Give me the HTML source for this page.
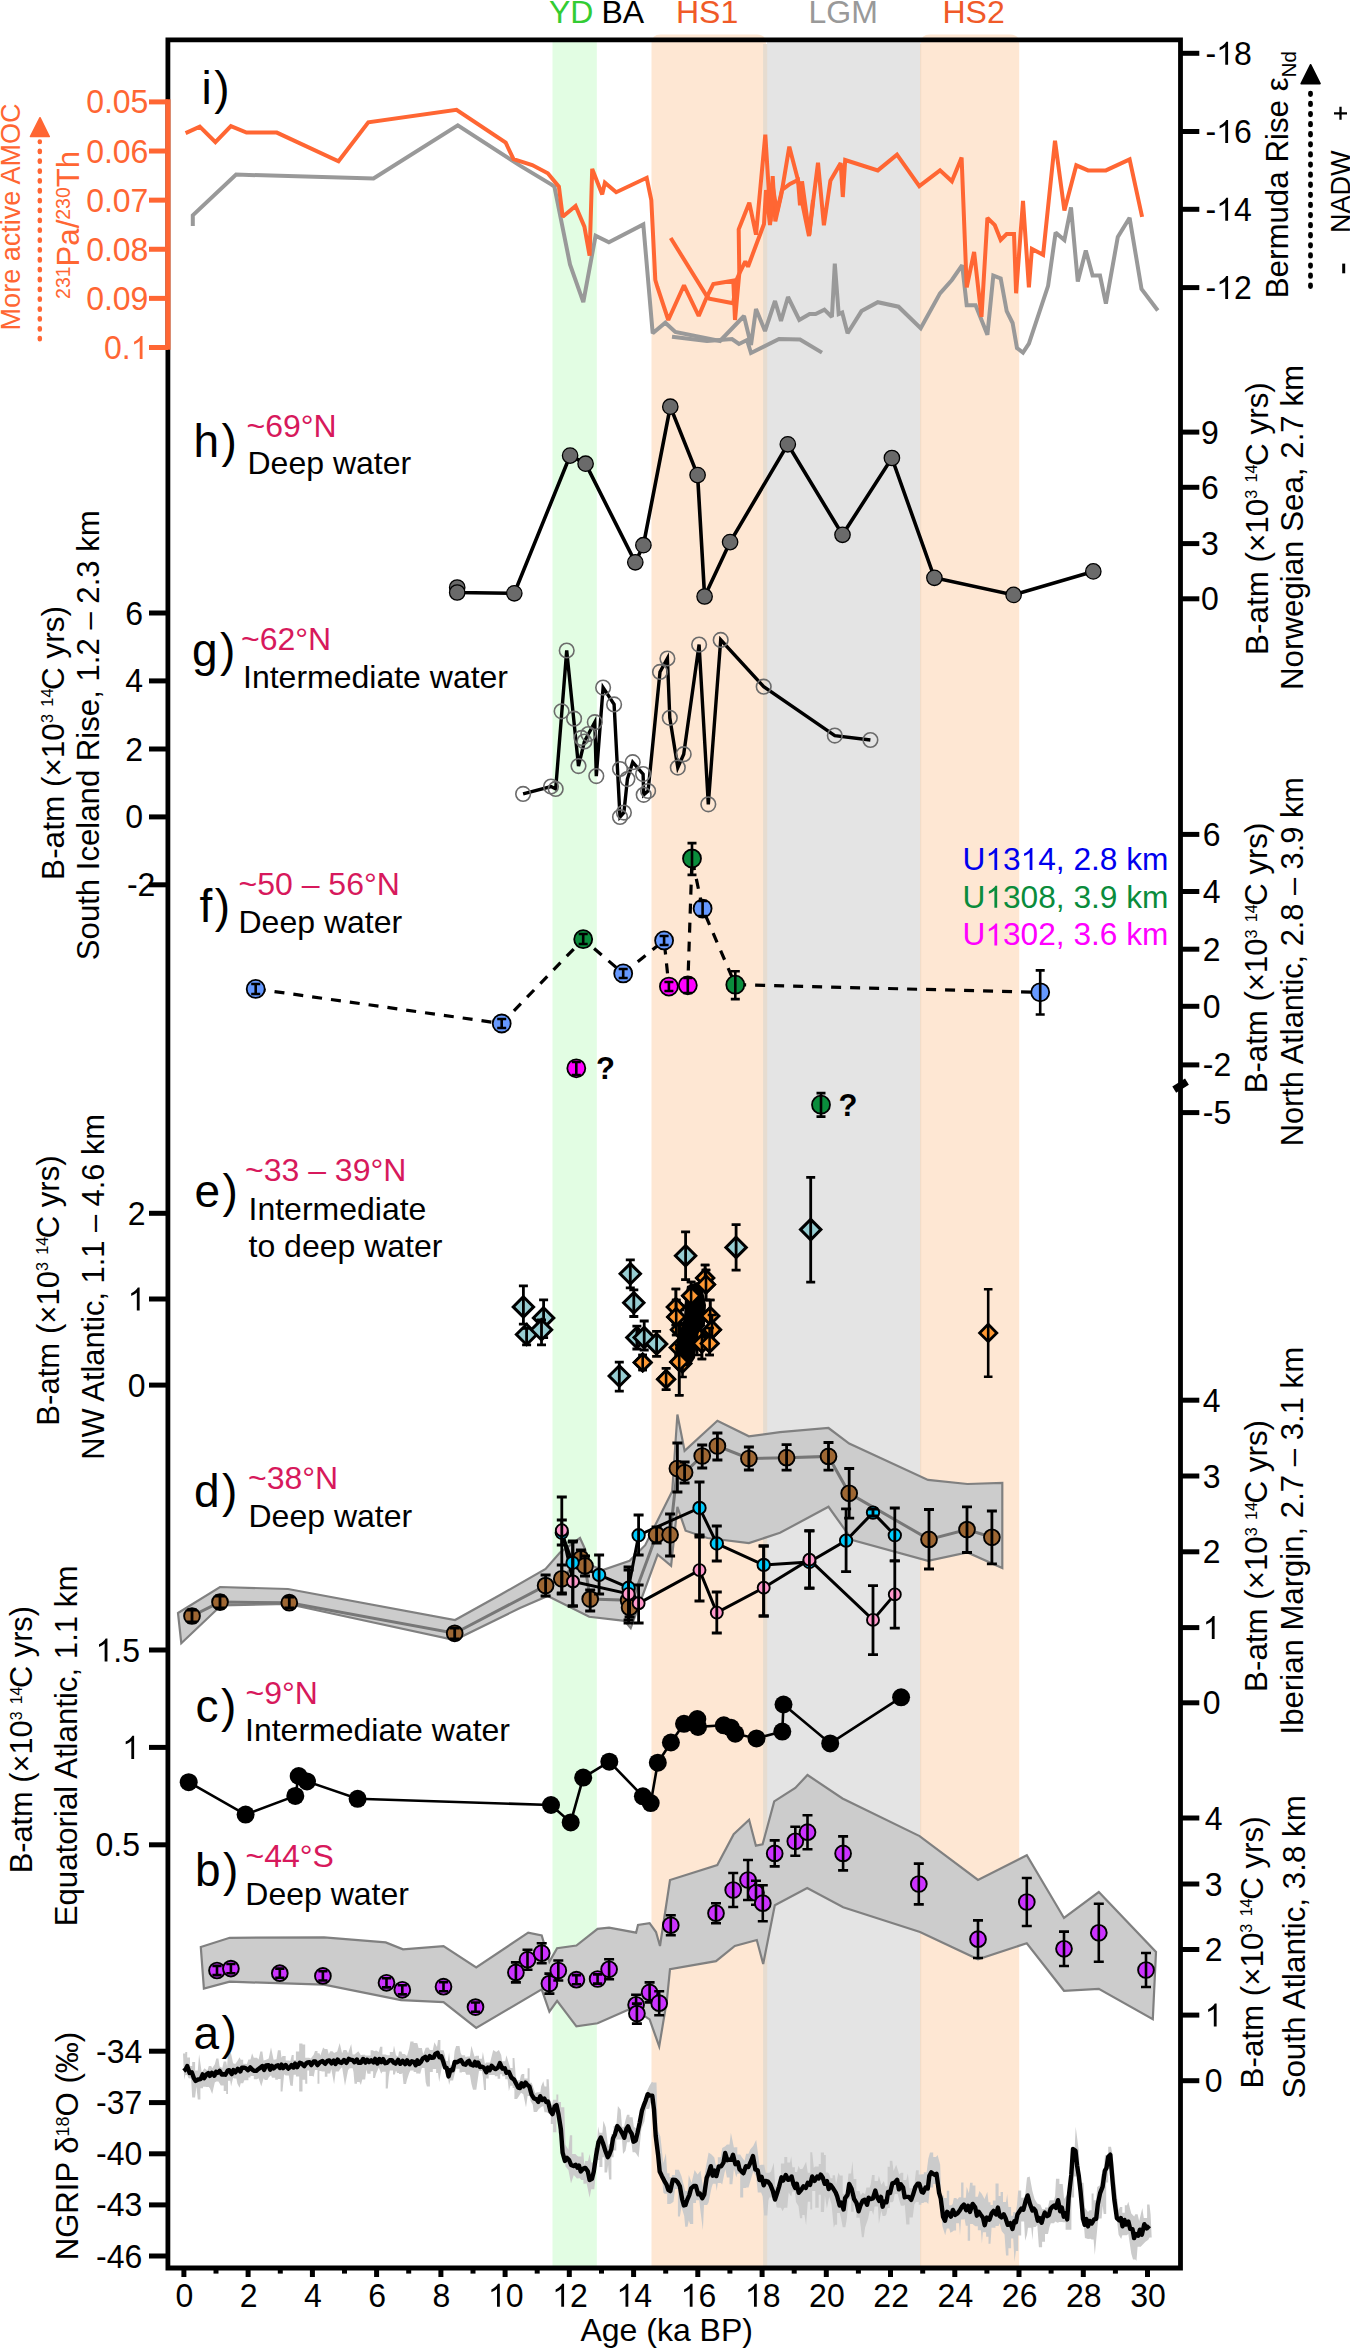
<!DOCTYPE html>
<html><head><meta charset="utf-8"><title>Figure</title>
<style>html,body{margin:0;padding:0;background:#fff;} body{width:1350px;height:2348px;overflow:hidden;font-family:"Liberation Sans",sans-serif;} svg{display:block;}</style>
</head><body>
<svg width="1350" height="2348" viewBox="0 0 1350 2348" font-family="Liberation Sans, sans-serif"><rect x="552.5" y="40" width="44.299999999999955" height="2226" fill="#e2fde3"/>
<path d="M651.5,2266V43.5Q651.5,34.5 660.5,34.5H757.0Q766.0,34.5 766.0,43.5V2266Z" fill="#fee7d3"/>
<rect x="767.0" y="40" width="153.79999999999995" height="2226" fill="#e4e4e4"/>
<path d="M920.8,2266V43.5Q920.8,34.5 929.8,34.5H1010.2Q1019.2,34.5 1019.2,43.5V2266Z" fill="#fee7d3"/>
<rect x="763.1" y="44" width="4.1" height="2222" fill="#e6dcd0"/>
<rect x="920.1" y="44" width="1.1" height="2222" fill="#f2dcc6"/>
<text x="549" y="22.8" font-size="32" fill="#33cc33" text-anchor="start" >YD</text>
<text x="601.5" y="22.8" font-size="32" fill="#000" text-anchor="start" >BA</text>
<text x="676" y="22.8" font-size="32" fill="#f05a28" text-anchor="start" >HS1</text>
<text x="808.5" y="22.8" font-size="32" fill="#999999" text-anchor="start" >LGM</text>
<text x="942.5" y="22.8" font-size="32" fill="#f05a28" text-anchor="start" >HS2</text>
<polyline points="192.8,226.0 192.8,215.3 236.1,174.6 373.5,178.5 457.8,125.4 520.0,165.6 551.1,184.4 554.4,186.7 570.0,264.4 583.3,302.2 595.6,235.6 608.9,242.2 643.3,224.4 652.7,333.3 665.3,322.7 675.3,332.0 720.0,341.0 744.0,316.0 751.0,345.0 756.0,309.0 765.0,331.0 775.0,301.0 781.0,321.0 788.0,297.0 799.3,320.0 809.6,314.1 815.6,314.1 824.4,309.6 831.9,317.0 834.8,263.7 838.7,314.1 842.2,312.6 847.6,333.3 861.5,311.1 877.8,302.2 898.5,306.7 920.7,328.3 940.0,293.3 951.9,280.0 962.2,265.2 966.7,305.2 975.6,305.2 987.4,334.8 993.3,275.6 1000.7,278.5 1006.7,311.1 1012.6,323.0 1017.0,348.1 1023.0,352.6 1028.9,343.7 1048.1,285.9 1055.6,232.6 1064.4,240.0 1071.0,207.4 1077.8,281.5 1085.8,250.4 1092.6,275.6 1100.0,275.6 1105.9,303.7 1117.8,237.0 1129.6,217.8 1141.5,288.9 1157.8,310.5" fill="none" stroke="#999999" stroke-width="4.0" stroke-linejoin="miter" stroke-miterlimit="2"/>
<polyline points="672.0,336.7 707.0,341.0 732.0,339.0 739.0,344.0 747.0,340.0 751.0,353.0 779.0,339.0 800.0,339.5 822.0,352.6" fill="none" stroke="#999999" stroke-width="4.0" stroke-linejoin="miter" stroke-miterlimit="2"/>
<polyline points="185.6,133.1 199.8,126.7 215.4,142.2 230.9,126.1 246.5,132.6 276.8,132.6 338.5,161.2 368.3,122.3 456.5,109.8 505.7,142.7 513.5,159.1 532.2,165.1 547.8,173.3 558.9,186.7 562.7,216.7 575.6,206.0 584.4,226.7 589.6,255.6 592.2,168.9 602.2,194.4 604.9,182.7 616.2,192.2 646.7,177.8 651.3,200.0 653.3,240.0 655.3,280.0 657.3,286.7 668.3,320.0 684.0,285.3 698.7,316.0 706.7,297.3 713.3,284.0 733.3,280.7 735.0,320.0 739.3,273.3 738.7,229.3 744.0,216.0 749.3,202.7 756.0,234.7 765.3,134.7 770.7,221.3 772.7,176.0 775.3,221.3 781.3,194.7 789.3,146.7 798.0,180.0 800.0,205.3 802.0,181.3 809.3,234.7 813.3,200.0 818.0,162.7 823.9,225.2 830.4,180.7 840.7,163.0 842.8,197.0 845.2,160.0 877.8,170.4 897.0,154.7 919.3,186.1 940.0,170.4 951.9,181.3 961.6,157.6 966.7,287.4 974.1,251.9 981.5,317.0 987.4,217.8 994.8,225.2 1000.7,240.0 1006.7,234.1 1014.0,234.1 1016.1,293.3 1023.0,200.9 1028.9,287.4 1031.9,248.9 1043.1,254.8 1055.0,140.7 1064.4,210.4 1076.3,165.3 1088.1,170.4 1105.9,170.4 1129.6,159.4 1142.1,216.9" fill="none" stroke="#ff6633" stroke-width="4.0" stroke-linejoin="miter" stroke-miterlimit="2"/>
<polyline points="670.7,238.0 706.7,296.0 709.3,298.7 733.3,303.3 736.0,281.0 740.0,272.0 745.3,261.3 748.0,266.7 756.0,245.3 764.0,224.0 766.0,190.0 770.0,225.0 773.0,188.0 777.0,212.0 782.0,190.0 790.0,184.0 798.0,180.0 803.0,207.0 809.0,236.0 813.0,200.0" fill="none" stroke="#ff6633" stroke-width="4.0" stroke-linejoin="miter" stroke-miterlimit="2"/>
<polyline points="457.2,587.5 457.2,592.5 514.3,593.3 570.1,455.6 585.6,463.7 635.3,562.3 643.4,545.2 670.3,406.7 697.6,475.1 704.6,596.5 730.1,542.1 787.8,444.3 842.5,534.8 891.9,458.0 934.4,577.8 1013.6,594.9 1093.3,571.4" fill="none" stroke="#000" stroke-width="3.6"/>
<circle cx="457.2" cy="587.5" r="7.7" fill="#6a6a6a" stroke="#000" stroke-width="1.3"/>
<circle cx="457.2" cy="592.5" r="7.7" fill="#6a6a6a" stroke="#000" stroke-width="1.3"/>
<circle cx="514.3" cy="593.3" r="7.7" fill="#6a6a6a" stroke="#000" stroke-width="1.3"/>
<circle cx="570.1" cy="455.6" r="7.7" fill="#6a6a6a" stroke="#000" stroke-width="1.3"/>
<circle cx="585.6" cy="463.7" r="7.7" fill="#6a6a6a" stroke="#000" stroke-width="1.3"/>
<circle cx="635.3" cy="562.3" r="7.7" fill="#6a6a6a" stroke="#000" stroke-width="1.3"/>
<circle cx="643.4" cy="545.2" r="7.7" fill="#6a6a6a" stroke="#000" stroke-width="1.3"/>
<circle cx="670.3" cy="406.7" r="7.7" fill="#6a6a6a" stroke="#000" stroke-width="1.3"/>
<circle cx="697.6" cy="475.1" r="7.7" fill="#6a6a6a" stroke="#000" stroke-width="1.3"/>
<circle cx="704.6" cy="596.5" r="7.7" fill="#6a6a6a" stroke="#000" stroke-width="1.3"/>
<circle cx="730.1" cy="542.1" r="7.7" fill="#6a6a6a" stroke="#000" stroke-width="1.3"/>
<circle cx="787.8" cy="444.3" r="7.7" fill="#6a6a6a" stroke="#000" stroke-width="1.3"/>
<circle cx="842.5" cy="534.8" r="7.7" fill="#6a6a6a" stroke="#000" stroke-width="1.3"/>
<circle cx="891.9" cy="458" r="7.7" fill="#6a6a6a" stroke="#000" stroke-width="1.3"/>
<circle cx="934.4" cy="577.8" r="7.7" fill="#6a6a6a" stroke="#000" stroke-width="1.3"/>
<circle cx="1013.6" cy="594.9" r="7.7" fill="#6a6a6a" stroke="#000" stroke-width="1.3"/>
<circle cx="1093.3" cy="571.4" r="7.7" fill="#6a6a6a" stroke="#000" stroke-width="1.3"/>
<polyline points="523.1,793.9 551.0,786.5 555.7,788.9 566.7,650.5 578.5,766.1 584.4,741.5 594.8,722.2 596.3,776.1 603.1,687.6 614.1,704.4 620.0,817.0 623.9,812.6 627.4,779.1 632.7,762.2 643.1,774.1 643.7,794.8 648.1,791.0 660.0,671.9 667.4,658.5 669.8,717.8 677.8,767.6 683.7,754.2 699.1,644.6 708.3,804.3 720.7,639.9 763.7,686.7 834.8,735.6 870.4,740.0" fill="none" stroke="#000" stroke-width="3.4"/>
<circle cx="523.1" cy="793.9" r="7.3" fill="none" stroke="#6b6b6b" stroke-width="1.6"/>
<circle cx="551" cy="786.5" r="7.3" fill="none" stroke="#6b6b6b" stroke-width="1.6"/>
<circle cx="555.7" cy="788.9" r="7.3" fill="none" stroke="#6b6b6b" stroke-width="1.6"/>
<circle cx="561.6" cy="711.3" r="7.3" fill="none" stroke="#6b6b6b" stroke-width="1.6"/>
<circle cx="566.7" cy="650.5" r="7.3" fill="none" stroke="#6b6b6b" stroke-width="1.6"/>
<circle cx="574.1" cy="718.7" r="7.3" fill="none" stroke="#6b6b6b" stroke-width="1.6"/>
<circle cx="578.5" cy="766.1" r="7.3" fill="none" stroke="#6b6b6b" stroke-width="1.6"/>
<circle cx="581.5" cy="737.9" r="7.3" fill="none" stroke="#6b6b6b" stroke-width="1.6"/>
<circle cx="584.4" cy="741.5" r="7.3" fill="none" stroke="#6b6b6b" stroke-width="1.6"/>
<circle cx="588.3" cy="734.1" r="7.3" fill="none" stroke="#6b6b6b" stroke-width="1.6"/>
<circle cx="594.8" cy="722.2" r="7.3" fill="none" stroke="#6b6b6b" stroke-width="1.6"/>
<circle cx="596.3" cy="776.1" r="7.3" fill="none" stroke="#6b6b6b" stroke-width="1.6"/>
<circle cx="603.1" cy="687.6" r="7.3" fill="none" stroke="#6b6b6b" stroke-width="1.6"/>
<circle cx="614.1" cy="704.4" r="7.3" fill="none" stroke="#6b6b6b" stroke-width="1.6"/>
<circle cx="620" cy="769" r="7.3" fill="none" stroke="#6b6b6b" stroke-width="1.6"/>
<circle cx="620" cy="817" r="7.3" fill="none" stroke="#6b6b6b" stroke-width="1.6"/>
<circle cx="623.9" cy="812.6" r="7.3" fill="none" stroke="#6b6b6b" stroke-width="1.6"/>
<circle cx="627.4" cy="779.1" r="7.3" fill="none" stroke="#6b6b6b" stroke-width="1.6"/>
<circle cx="632.7" cy="762.2" r="7.3" fill="none" stroke="#6b6b6b" stroke-width="1.6"/>
<circle cx="643.1" cy="774.1" r="7.3" fill="none" stroke="#6b6b6b" stroke-width="1.6"/>
<circle cx="643.7" cy="794.8" r="7.3" fill="none" stroke="#6b6b6b" stroke-width="1.6"/>
<circle cx="648.1" cy="791" r="7.3" fill="none" stroke="#6b6b6b" stroke-width="1.6"/>
<circle cx="660" cy="671.9" r="7.3" fill="none" stroke="#6b6b6b" stroke-width="1.6"/>
<circle cx="667.4" cy="658.5" r="7.3" fill="none" stroke="#6b6b6b" stroke-width="1.6"/>
<circle cx="669.8" cy="717.8" r="7.3" fill="none" stroke="#6b6b6b" stroke-width="1.6"/>
<circle cx="677.8" cy="767.6" r="7.3" fill="none" stroke="#6b6b6b" stroke-width="1.6"/>
<circle cx="683.7" cy="754.2" r="7.3" fill="none" stroke="#6b6b6b" stroke-width="1.6"/>
<circle cx="699.1" cy="644.6" r="7.3" fill="none" stroke="#6b6b6b" stroke-width="1.6"/>
<circle cx="708.3" cy="804.3" r="7.3" fill="none" stroke="#6b6b6b" stroke-width="1.6"/>
<circle cx="720.7" cy="639.9" r="7.3" fill="none" stroke="#6b6b6b" stroke-width="1.6"/>
<circle cx="763.7" cy="686.7" r="7.3" fill="none" stroke="#6b6b6b" stroke-width="1.6"/>
<circle cx="834.8" cy="735.6" r="7.3" fill="none" stroke="#6b6b6b" stroke-width="1.6"/>
<circle cx="870.4" cy="740" r="7.3" fill="none" stroke="#6b6b6b" stroke-width="1.6"/>
<polyline points="255.7,988.9 501.7,1023.5 583.2,939.2 623.2,973.4 664.1,940.4 668.9,986.6 687.8,985.3 692.0,858.5 702.6,908.6 735.3,984.7 1040.2,992.3" fill="none" stroke="#000" stroke-width="3.2" stroke-dasharray="10 9"/>
<circle cx="255.7" cy="988.9" r="9.0" fill="#6699ff" stroke="#000" stroke-width="1.8"/>
<path d="M255.7,984V994M251.2,984H260.2M251.2,994H260.2" stroke="#000" stroke-width="2.6" fill="none"/>
<circle cx="501.7" cy="1023.5" r="9.0" fill="#6699ff" stroke="#000" stroke-width="1.8"/>
<path d="M501.7,1019V1028M497.2,1019H506.2M497.2,1028H506.2" stroke="#000" stroke-width="2.6" fill="none"/>
<circle cx="583.2" cy="939.2" r="9.0" fill="#0a8c3c" stroke="#000" stroke-width="1.8"/>
<path d="M583.2,934V944M578.7,934H587.7M578.7,944H587.7" stroke="#000" stroke-width="2.6" fill="none"/>
<circle cx="623.2" cy="973.4" r="9.0" fill="#6699ff" stroke="#000" stroke-width="1.8"/>
<path d="M623.2,969V978M618.7,969H627.7M618.7,978H627.7" stroke="#000" stroke-width="2.6" fill="none"/>
<circle cx="664.1" cy="940.4" r="9.0" fill="#6699ff" stroke="#000" stroke-width="1.8"/>
<path d="M664.1,936V945M659.6,936H668.6M659.6,945H668.6" stroke="#000" stroke-width="2.6" fill="none"/>
<circle cx="668.9" cy="986.6" r="9.0" fill="#ff00ff" stroke="#000" stroke-width="1.8"/>
<path d="M668.9,982V991M664.4,982H673.4M664.4,991H673.4" stroke="#000" stroke-width="2.6" fill="none"/>
<circle cx="687.8" cy="985.3" r="9.0" fill="#ff00ff" stroke="#000" stroke-width="1.8"/>
<path d="M687.8,978V993M683.3,978H692.3M683.3,993H692.3" stroke="#000" stroke-width="2.6" fill="none"/>
<circle cx="692" cy="858.5" r="9.0" fill="#0a8c3c" stroke="#000" stroke-width="1.8"/>
<path d="M692,843.1V874.9M687.5,843.1H696.5M687.5,874.9H696.5" stroke="#000" stroke-width="2.6" fill="none"/>
<circle cx="702.6" cy="908.6" r="9.0" fill="#6699ff" stroke="#000" stroke-width="1.8"/>
<path d="M702.6,901V916M698.1,901H707.1M698.1,916H707.1" stroke="#000" stroke-width="2.6" fill="none"/>
<circle cx="735.3" cy="984.7" r="9.0" fill="#0a8c3c" stroke="#000" stroke-width="1.8"/>
<path d="M735.3,971.2V999.1M730.8,971.2H739.8M730.8,999.1H739.8" stroke="#000" stroke-width="2.6" fill="none"/>
<circle cx="1040.2" cy="992.3" r="9.0" fill="#6699ff" stroke="#000" stroke-width="1.8"/>
<path d="M1040.2,970.4V1014.5M1035.7,970.4H1044.7M1035.7,1014.5H1044.7" stroke="#000" stroke-width="2.6" fill="none"/>
<circle cx="576.3" cy="1068.3" r="9.0" fill="#ff00ff" stroke="#000" stroke-width="1.8"/>
<path d="M576.3,1062V1075M571.8,1062H580.8M571.8,1075H580.8" stroke="#000" stroke-width="2.6" fill="none"/>
<circle cx="821" cy="1104.7" r="9.0" fill="#0a8c3c" stroke="#000" stroke-width="1.8"/>
<path d="M821,1093.1V1116.6M816.5,1093.1H825.5M816.5,1116.6H825.5" stroke="#000" stroke-width="2.6" fill="none"/>
<text x="596" y="1079" font-size="31" font-weight="bold" fill="#000">?</text>
<text x="838.5" y="1116.3" font-size="31" font-weight="bold" fill="#000">?</text>
<path d="M642.7,1353.9L651.3000000000001,1362.5L642.7,1371.1L634.1,1362.5Z" fill="#ff9933" stroke="#000" stroke-width="2.8" stroke-linejoin="miter"/>
<path d="M642.7,1355V1370M638.4000000000001,1355H647.0M638.4000000000001,1370H647.0" stroke="#000" stroke-width="2.6" fill="none"/>
<path d="M666.1,1370.6000000000001L674.7,1379.2L666.1,1387.8L657.5,1379.2Z" fill="#ff9933" stroke="#000" stroke-width="2.8" stroke-linejoin="miter"/>
<path d="M666.1,1368.2V1389.7M661.8000000000001,1368.2H670.4M661.8000000000001,1389.7H670.4" stroke="#000" stroke-width="2.6" fill="none"/>
<path d="M675.9,1298.5L684.5,1307.1L675.9,1315.6999999999998L667.3,1307.1Z" fill="#ff9933" stroke="#000" stroke-width="2.8" stroke-linejoin="miter"/>
<path d="M675.9,1289V1325M671.6,1289H680.1999999999999M671.6,1325H680.1999999999999" stroke="#000" stroke-width="2.6" fill="none"/>
<path d="M676.2,1308.3000000000002L684.8000000000001,1316.9L676.2,1325.5L667.6,1316.9Z" fill="#ff9933" stroke="#000" stroke-width="2.8" stroke-linejoin="miter"/>
<path d="M676.2,1300V1335M671.9000000000001,1300H680.5M671.9000000000001,1335H680.5" stroke="#000" stroke-width="2.6" fill="none"/>
<path d="M679.8,1321.1000000000001L688.4,1329.7L679.8,1338.3L671.1999999999999,1329.7Z" fill="#ff9933" stroke="#000" stroke-width="2.8" stroke-linejoin="miter"/>
<path d="M679.8,1310V1350M675.5,1310H684.0999999999999M675.5,1350H684.0999999999999" stroke="#000" stroke-width="2.6" fill="none"/>
<path d="M678.6,1339.0L687.2,1347.6L678.6,1356.1999999999998L670.0,1347.6Z" fill="#ff9933" stroke="#000" stroke-width="2.8" stroke-linejoin="miter"/>
<path d="M678.6,1325V1355M674.3000000000001,1325H682.9M674.3000000000001,1355H682.9" stroke="#000" stroke-width="2.6" fill="none"/>
<path d="M679.2,1353.3000000000002L687.8000000000001,1361.9L679.2,1370.5L670.6,1361.9Z" fill="#ff9933" stroke="#000" stroke-width="2.8" stroke-linejoin="miter"/>
<path d="M679.2,1345V1395.3M674.9000000000001,1345H683.5M674.9000000000001,1395.3H683.5" stroke="#000" stroke-width="2.6" fill="none"/>
<path d="M682.5,1355.0L691.1,1363.6L682.5,1372.1999999999998L673.9,1363.6Z" fill="#ff9933" stroke="#000" stroke-width="2.8" stroke-linejoin="miter"/>
<path d="M682.5,1350V1377M678.2,1350H686.8M678.2,1377H686.8" stroke="#000" stroke-width="2.6" fill="none"/>
<path d="M691.1,1287.2L699.7,1295.8L691.1,1304.3999999999999L682.5,1295.8Z" fill="#ff9933" stroke="#000" stroke-width="2.8" stroke-linejoin="miter"/>
<path d="M691.1,1282V1310M686.8000000000001,1282H695.4M686.8000000000001,1310H695.4" stroke="#000" stroke-width="2.6" fill="none"/>
<path d="M688.7,1327.1000000000001L697.3000000000001,1335.7L688.7,1344.3L680.1,1335.7Z" fill="#ff9933" stroke="#000" stroke-width="2.8" stroke-linejoin="miter"/>
<path d="M688.7,1305V1354M684.4000000000001,1305H693.0M684.4000000000001,1354H693.0" stroke="#000" stroke-width="2.6" fill="none"/>
<path d="M695,1316.6000000000001L703.6,1325.2L695,1333.8L686.4,1325.2Z" fill="#ff9933" stroke="#000" stroke-width="2.8" stroke-linejoin="miter"/>
<path d="M695,1305V1345M690.7,1305H699.3M690.7,1345H699.3" stroke="#000" stroke-width="2.6" fill="none"/>
<path d="M697.1,1327.0L705.7,1335.6L697.1,1344.1999999999998L688.5,1335.6Z" fill="#ff9933" stroke="#000" stroke-width="2.8" stroke-linejoin="miter"/>
<path d="M697.1,1320V1355M692.8000000000001,1320H701.4M692.8000000000001,1355H701.4" stroke="#000" stroke-width="2.6" fill="none"/>
<path d="M705.1,1269.3000000000002L713.7,1277.9L705.1,1286.5L696.5,1277.9Z" fill="#ff9933" stroke="#000" stroke-width="2.8" stroke-linejoin="miter"/>
<path d="M705.1,1265V1290M700.8000000000001,1265H709.4M700.8000000000001,1290H709.4" stroke="#000" stroke-width="2.6" fill="none"/>
<path d="M706,1275.8000000000002L714.6,1284.4L706,1293.0L697.4,1284.4Z" fill="#ff9933" stroke="#000" stroke-width="2.8" stroke-linejoin="miter"/>
<path d="M706,1270V1300M701.7,1270H710.3M701.7,1300H710.3" stroke="#000" stroke-width="2.6" fill="none"/>
<path d="M710.2,1307.4L718.8000000000001,1316L710.2,1324.6L701.6,1316Z" fill="#ff9933" stroke="#000" stroke-width="2.8" stroke-linejoin="miter"/>
<path d="M710.2,1300V1330M705.9000000000001,1300H714.5M705.9000000000001,1330H714.5" stroke="#000" stroke-width="2.6" fill="none"/>
<path d="M712,1321.1000000000001L720.6,1329.7L712,1338.3L703.4,1329.7Z" fill="#ff9933" stroke="#000" stroke-width="2.8" stroke-linejoin="miter"/>
<path d="M712,1315V1345M707.7,1315H716.3M707.7,1345H716.3" stroke="#000" stroke-width="2.6" fill="none"/>
<path d="M701.9,1334.9L710.5,1343.5L701.9,1352.1L693.3,1343.5Z" fill="#ff9933" stroke="#000" stroke-width="2.8" stroke-linejoin="miter"/>
<path d="M701.9,1330V1359M697.6,1330H706.1999999999999M697.6,1359H706.1999999999999" stroke="#000" stroke-width="2.6" fill="none"/>
<path d="M709.6,1334.9L718.2,1343.5L709.6,1352.1L701.0,1343.5Z" fill="#ff9933" stroke="#000" stroke-width="2.8" stroke-linejoin="miter"/>
<path d="M709.6,1328V1355M705.3000000000001,1328H713.9M705.3000000000001,1355H713.9" stroke="#000" stroke-width="2.6" fill="none"/>
<path d="M988.2,1324.3000000000002L996.8000000000001,1332.9L988.2,1341.5L979.6,1332.9Z" fill="#ff9933" stroke="#000" stroke-width="2.8" stroke-linejoin="miter"/>
<path d="M988.2,1289.3V1376.7M983.9000000000001,1289.3H992.5M983.9000000000001,1376.7H992.5" stroke="#000" stroke-width="2.6" fill="none"/>
<polygon points="687.0,1286.0 697.0,1282.0 703.0,1291.0 706.0,1305.0 705.0,1324.0 698.0,1334.0 695.0,1358.0 689.0,1367.0 677.0,1364.0 675.0,1348.0 679.0,1334.0 684.0,1318.0 685.0,1298.0" fill="#000"/>
<path d="M705.1,1269.3000000000002L713.7,1277.9L705.1,1286.5L696.5,1277.9Z" fill="#ff9933" stroke="#000" stroke-width="2.8" stroke-linejoin="miter"/>
<path d="M705.1,1265V1290M700.8000000000001,1265H709.4M700.8000000000001,1290H709.4" stroke="#000" stroke-width="2.6" fill="none"/>
<path d="M706,1275.8000000000002L714.6,1284.4L706,1293.0L697.4,1284.4Z" fill="#ff9933" stroke="#000" stroke-width="2.8" stroke-linejoin="miter"/>
<path d="M706,1270V1300M701.7,1270H710.3M701.7,1300H710.3" stroke="#000" stroke-width="2.6" fill="none"/>
<path d="M710.2,1307.4L718.8000000000001,1316L710.2,1324.6L701.6,1316Z" fill="#ff9933" stroke="#000" stroke-width="2.8" stroke-linejoin="miter"/>
<path d="M710.2,1300V1330M705.9000000000001,1300H714.5M705.9000000000001,1330H714.5" stroke="#000" stroke-width="2.6" fill="none"/>
<path d="M712,1321.1000000000001L720.6,1329.7L712,1338.3L703.4,1329.7Z" fill="#ff9933" stroke="#000" stroke-width="2.8" stroke-linejoin="miter"/>
<path d="M712,1315V1345M707.7,1315H716.3M707.7,1345H716.3" stroke="#000" stroke-width="2.6" fill="none"/>
<path d="M701.9,1334.9L710.5,1343.5L701.9,1352.1L693.3,1343.5Z" fill="#ff9933" stroke="#000" stroke-width="2.8" stroke-linejoin="miter"/>
<path d="M701.9,1330V1359M697.6,1330H706.1999999999999M697.6,1359H706.1999999999999" stroke="#000" stroke-width="2.6" fill="none"/>
<path d="M709.6,1334.9L718.2,1343.5L709.6,1352.1L701.0,1343.5Z" fill="#ff9933" stroke="#000" stroke-width="2.8" stroke-linejoin="miter"/>
<path d="M709.6,1328V1355M705.3000000000001,1328H713.9M705.3000000000001,1355H713.9" stroke="#000" stroke-width="2.6" fill="none"/>
<path d="M675.9,1298.5L684.5,1307.1L675.9,1315.6999999999998L667.3,1307.1Z" fill="#ff9933" stroke="#000" stroke-width="2.8" stroke-linejoin="miter"/>
<path d="M675.9,1289V1325M671.6,1289H680.1999999999999M671.6,1325H680.1999999999999" stroke="#000" stroke-width="2.6" fill="none"/>
<path d="M676.2,1308.3000000000002L684.8000000000001,1316.9L676.2,1325.5L667.6,1316.9Z" fill="#ff9933" stroke="#000" stroke-width="2.8" stroke-linejoin="miter"/>
<path d="M676.2,1300V1335M671.9000000000001,1300H680.5M671.9000000000001,1335H680.5" stroke="#000" stroke-width="2.6" fill="none"/>
<path d="M679.2,1353.3000000000002L687.8000000000001,1361.9L679.2,1370.5L670.6,1361.9Z" fill="#ff9933" stroke="#000" stroke-width="2.8" stroke-linejoin="miter"/>
<path d="M679.2,1345V1395.3M674.9000000000001,1345H683.5M674.9000000000001,1395.3H683.5" stroke="#000" stroke-width="2.6" fill="none"/>
<path d="M666.1,1370.6000000000001L674.7,1379.2L666.1,1387.8L657.5,1379.2Z" fill="#ff9933" stroke="#000" stroke-width="2.8" stroke-linejoin="miter"/>
<path d="M666.1,1368.2V1389.7M661.8000000000001,1368.2H670.4M661.8000000000001,1389.7H670.4" stroke="#000" stroke-width="2.6" fill="none"/>
<path d="M691.1,1287.2L699.7,1295.8L691.1,1304.3999999999999L682.5,1295.8Z" fill="#ff9933" stroke="#000" stroke-width="2.8" stroke-linejoin="miter"/>
<path d="M691.1,1282V1310M686.8000000000001,1282H695.4M686.8000000000001,1310H695.4" stroke="#000" stroke-width="2.6" fill="none"/>
<path d="M642.7,1353.9L651.3000000000001,1362.5L642.7,1371.1L634.1,1362.5Z" fill="#ff9933" stroke="#000" stroke-width="2.8" stroke-linejoin="miter"/>
<path d="M642.7,1355V1370M638.4000000000001,1355H647.0M638.4000000000001,1370H647.0" stroke="#000" stroke-width="2.6" fill="none"/>
<path d="M523.4,1296.7L533.6,1306.9L523.4,1317.1000000000001L513.1999999999999,1306.9Z" fill="#96cdd2" stroke="#000" stroke-width="3.0" stroke-linejoin="miter"/>
<path d="M523.4,1285.8V1324.2M518.9,1285.8H527.9M518.9,1324.2H527.9" stroke="#000" stroke-width="2.8" fill="none"/>
<path d="M526.6,1324.3L536.8000000000001,1334.5L526.6,1344.7L516.4,1334.5Z" fill="#96cdd2" stroke="#000" stroke-width="3.0" stroke-linejoin="miter"/>
<path d="M526.6,1328.3V1344.9M522.1,1328.3H531.1M522.1,1344.9H531.1" stroke="#000" stroke-width="2.8" fill="none"/>
<path d="M543.6,1307.7L553.8000000000001,1317.9L543.6,1328.1000000000001L533.4,1317.9Z" fill="#96cdd2" stroke="#000" stroke-width="3.0" stroke-linejoin="miter"/>
<path d="M543.6,1299.9V1337.6M539.1,1299.9H548.1M539.1,1337.6H548.1" stroke="#000" stroke-width="2.8" fill="none"/>
<path d="M541.5,1319.6L551.7,1329.8L541.5,1340.0L531.3,1329.8Z" fill="#96cdd2" stroke="#000" stroke-width="3.0" stroke-linejoin="miter"/>
<path d="M541.5,1320V1344.9M537.0,1320H546.0M537.0,1344.9H546.0" stroke="#000" stroke-width="2.8" fill="none"/>
<path d="M630.3,1263.6L640.5,1273.8L630.3,1284.0L620.0999999999999,1273.8Z" fill="#96cdd2" stroke="#000" stroke-width="3.0" stroke-linejoin="miter"/>
<path d="M630.3,1259.9V1287.9M625.8,1259.9H634.8M625.8,1287.9H634.8" stroke="#000" stroke-width="2.8" fill="none"/>
<path d="M633.8,1292.6L644.0,1302.8L633.8,1313.0L623.5999999999999,1302.8Z" fill="#96cdd2" stroke="#000" stroke-width="3.0" stroke-linejoin="miter"/>
<path d="M633.8,1289.9V1316.5M629.3,1289.9H638.3M629.3,1316.5H638.3" stroke="#000" stroke-width="2.8" fill="none"/>
<path d="M636.9,1327.3999999999999L647.1,1337.6L636.9,1347.8L626.6999999999999,1337.6Z" fill="#96cdd2" stroke="#000" stroke-width="3.0" stroke-linejoin="miter"/>
<path d="M636.9,1326.2V1349M632.4,1326.2H641.4M632.4,1349H641.4" stroke="#000" stroke-width="2.8" fill="none"/>
<path d="M644.2,1327.3999999999999L654.4000000000001,1337.6L644.2,1347.8L634.0,1337.6Z" fill="#96cdd2" stroke="#000" stroke-width="3.0" stroke-linejoin="miter"/>
<path d="M644.2,1321V1350M639.7,1321H648.7M639.7,1350H648.7" stroke="#000" stroke-width="2.8" fill="none"/>
<path d="M656.6,1333.7L666.8000000000001,1343.9L656.6,1354.1000000000001L646.4,1343.9Z" fill="#96cdd2" stroke="#000" stroke-width="3.0" stroke-linejoin="miter"/>
<path d="M656.6,1331.4V1356.3M652.1,1331.4H661.1M652.1,1356.3H661.1" stroke="#000" stroke-width="2.8" fill="none"/>
<path d="M619.3,1365.8L629.5,1376L619.3,1386.2L609.0999999999999,1376Z" fill="#96cdd2" stroke="#000" stroke-width="3.0" stroke-linejoin="miter"/>
<path d="M619.3,1362.1V1391.2M614.8,1362.1H623.8M614.8,1391.2H623.8" stroke="#000" stroke-width="2.8" fill="none"/>
<path d="M685.6,1245.5L695.8000000000001,1255.7L685.6,1265.9L675.4,1255.7Z" fill="#96cdd2" stroke="#000" stroke-width="3.0" stroke-linejoin="miter"/>
<path d="M685.6,1231.9V1279.6M681.1,1231.9H690.1M681.1,1279.6H690.1" stroke="#000" stroke-width="2.8" fill="none"/>
<path d="M736.1,1237.2L746.3000000000001,1247.4L736.1,1257.6000000000001L725.9,1247.4Z" fill="#96cdd2" stroke="#000" stroke-width="3.0" stroke-linejoin="miter"/>
<path d="M736.1,1224.6V1270.2M731.6,1224.6H740.6M731.6,1270.2H740.6" stroke="#000" stroke-width="2.8" fill="none"/>
<path d="M810.7,1219.3999999999999L820.9000000000001,1229.6L810.7,1239.8L800.5,1229.6Z" fill="#96cdd2" stroke="#000" stroke-width="3.0" stroke-linejoin="miter"/>
<path d="M810.7,1177.3V1282.2M806.2,1177.3H815.2M806.2,1282.2H815.2" stroke="#000" stroke-width="2.8" fill="none"/>
<polygon points="178.0,1613.0 220.0,1587.0 288.0,1589.0 455.0,1620.0 500.0,1595.0 545.6,1569.0 560.0,1552.5 580.0,1538.0 585.0,1549.0 590.0,1565.0 602.7,1570.0 629.6,1560.8 645.2,1545.2 672.2,1491.3 677.4,1414.5 684.6,1450.8 717.4,1420.7 748.9,1436.3 780.0,1432.2 828.5,1428.0 849.2,1443.6 928.0,1479.9 967.4,1484.0 1002.3,1483.0 1002.3,1568.0 967.4,1552.5 928.0,1560.8 852.3,1540.0 828.5,1506.8 780.0,1532.8 748.9,1543.1 707.4,1538.0 685.6,1530.7 677.4,1506.8 671.1,1565.9 657.6,1554.5 630.7,1628.2 624.5,1620.9 589.2,1616.8 547.7,1596.0 520.0,1608.0 454.7,1640.0 288.0,1604.0 221.3,1605.3 181.3,1643.2" fill="#cccccc" stroke="#808080" stroke-width="2.2" stroke-linejoin="miter"/>
<polyline points="192.0,1616.0 220.0,1602.1 289.3,1602.7 454.7,1633.3 545.6,1585.6 561.8,1578.8 580.9,1558.7 585.0,1565.9 590.2,1599.1 628.6,1600.2 629.6,1607.4 656.6,1534.8 670.1,1534.8 677.4,1468.5 684.6,1472.6 702.2,1456.0 717.4,1446.0 748.9,1458.5 786.6,1457.7 828.5,1456.4 849.2,1493.3 929.0,1539.4 967.0,1529.6 991.9,1537.3" fill="none" stroke="#777777" stroke-width="3"/>
<polyline points="561.8,1532.8 572.6,1562.8 599.1,1574.9 628.6,1587.7 638.6,1535.2 699.5,1507.9 716.8,1543.5 763.7,1564.9 809.4,1562.0 846.1,1540.6 873.0,1512.6 894.8,1535.2" fill="none" stroke="#000" stroke-width="3"/>
<polyline points="561.8,1530.3 573.0,1581.5 628.6,1593.9 638.6,1603.3 699.5,1570.1 716.8,1612.6 763.7,1587.7 809.4,1559.7 873.0,1619.9 894.8,1594.4" fill="none" stroke="#000" stroke-width="3"/>
<circle cx="192" cy="1616" r="7.9" fill="#9e6733" stroke="#000" stroke-width="1.9"/>
<path d="M192,1610V1622M187,1610H197M187,1622H197" stroke="#000" stroke-width="2.8" fill="none"/>
<circle cx="220" cy="1602.1" r="7.9" fill="#9e6733" stroke="#000" stroke-width="1.9"/>
<path d="M220,1596V1608M215,1596H225M215,1608H225" stroke="#000" stroke-width="2.8" fill="none"/>
<circle cx="289.3" cy="1602.7" r="7.9" fill="#9e6733" stroke="#000" stroke-width="1.9"/>
<path d="M289.3,1597V1608M284.3,1597H294.3M284.3,1608H294.3" stroke="#000" stroke-width="2.8" fill="none"/>
<circle cx="454.7" cy="1633.3" r="7.9" fill="#9e6733" stroke="#000" stroke-width="1.9"/>
<path d="M454.7,1628V1639M449.7,1628H459.7M449.7,1639H459.7" stroke="#000" stroke-width="2.8" fill="none"/>
<circle cx="545.6" cy="1585.6" r="7.9" fill="#9e6733" stroke="#000" stroke-width="1.9"/>
<path d="M545.6,1575V1596M540.6,1575H550.6M540.6,1596H550.6" stroke="#000" stroke-width="2.8" fill="none"/>
<circle cx="561.8" cy="1578.8" r="7.9" fill="#9e6733" stroke="#000" stroke-width="1.9"/>
<path d="M561.8,1565V1593M556.8,1565H566.8M556.8,1593H566.8" stroke="#000" stroke-width="2.8" fill="none"/>
<circle cx="580.9" cy="1558.7" r="7.9" fill="#9e6733" stroke="#000" stroke-width="1.9"/>
<path d="M580.9,1550V1568M575.9,1550H585.9M575.9,1568H585.9" stroke="#000" stroke-width="2.8" fill="none"/>
<circle cx="585" cy="1565.9" r="7.9" fill="#9e6733" stroke="#000" stroke-width="1.9"/>
<path d="M585,1556V1576M580,1556H590M580,1576H590" stroke="#000" stroke-width="2.8" fill="none"/>
<circle cx="590.2" cy="1599.1" r="7.9" fill="#9e6733" stroke="#000" stroke-width="1.9"/>
<path d="M590.2,1590V1611M585.2,1590H595.2M585.2,1611H595.2" stroke="#000" stroke-width="2.8" fill="none"/>
<circle cx="628.6" cy="1600.2" r="7.9" fill="#9e6733" stroke="#000" stroke-width="1.9"/>
<path d="M628.6,1590V1611M623.6,1590H633.6M623.6,1611H633.6" stroke="#000" stroke-width="2.8" fill="none"/>
<circle cx="629.6" cy="1607.4" r="7.9" fill="#9e6733" stroke="#000" stroke-width="1.9"/>
<path d="M629.6,1598V1617M624.6,1598H634.6M624.6,1617H634.6" stroke="#000" stroke-width="2.8" fill="none"/>
<circle cx="656.6" cy="1534.8" r="7.9" fill="#9e6733" stroke="#000" stroke-width="1.9"/>
<path d="M656.6,1527V1543M651.6,1527H661.6M651.6,1543H661.6" stroke="#000" stroke-width="2.8" fill="none"/>
<circle cx="670.1" cy="1534.8" r="7.9" fill="#9e6733" stroke="#000" stroke-width="1.9"/>
<path d="M670.1,1514V1556M665.1,1514H675.1M665.1,1556H675.1" stroke="#000" stroke-width="2.8" fill="none"/>
<circle cx="677.4" cy="1468.5" r="7.9" fill="#9e6733" stroke="#000" stroke-width="1.9"/>
<path d="M677.4,1443V1492M672.4,1443H682.4M672.4,1492H682.4" stroke="#000" stroke-width="2.8" fill="none"/>
<circle cx="684.6" cy="1472.6" r="7.9" fill="#9e6733" stroke="#000" stroke-width="1.9"/>
<path d="M684.6,1462V1483M679.6,1462H689.6M679.6,1483H689.6" stroke="#000" stroke-width="2.8" fill="none"/>
<circle cx="702.2" cy="1456" r="7.9" fill="#9e6733" stroke="#000" stroke-width="1.9"/>
<path d="M702.2,1445V1468M697.2,1445H707.2M697.2,1468H707.2" stroke="#000" stroke-width="2.8" fill="none"/>
<circle cx="717.4" cy="1446" r="7.9" fill="#9e6733" stroke="#000" stroke-width="1.9"/>
<path d="M717.4,1433V1460M712.4,1433H722.4M712.4,1460H722.4" stroke="#000" stroke-width="2.8" fill="none"/>
<circle cx="748.9" cy="1458.5" r="7.9" fill="#9e6733" stroke="#000" stroke-width="1.9"/>
<path d="M748.9,1447V1470M743.9,1447H753.9M743.9,1470H753.9" stroke="#000" stroke-width="2.8" fill="none"/>
<circle cx="786.6" cy="1457.7" r="7.9" fill="#9e6733" stroke="#000" stroke-width="1.9"/>
<path d="M786.6,1444.6V1470.1M781.6,1444.6H791.6M781.6,1470.1H791.6" stroke="#000" stroke-width="2.8" fill="none"/>
<circle cx="828.5" cy="1456.4" r="7.9" fill="#9e6733" stroke="#000" stroke-width="1.9"/>
<path d="M828.5,1442.5V1470.1M823.5,1442.5H833.5M823.5,1470.1H833.5" stroke="#000" stroke-width="2.8" fill="none"/>
<circle cx="849.2" cy="1493.3" r="7.9" fill="#9e6733" stroke="#000" stroke-width="1.9"/>
<path d="M849.2,1468.5V1518.2M844.2,1468.5H854.2M844.2,1518.2H854.2" stroke="#000" stroke-width="2.8" fill="none"/>
<circle cx="929" cy="1539.4" r="7.9" fill="#9e6733" stroke="#000" stroke-width="1.9"/>
<path d="M929,1509.5V1569M924,1509.5H934M924,1569H934" stroke="#000" stroke-width="2.8" fill="none"/>
<circle cx="967" cy="1529.6" r="7.9" fill="#9e6733" stroke="#000" stroke-width="1.9"/>
<path d="M967,1506.8V1552.5M962,1506.8H972M962,1552.5H972" stroke="#000" stroke-width="2.8" fill="none"/>
<circle cx="991.9" cy="1537.3" r="7.9" fill="#9e6733" stroke="#000" stroke-width="1.9"/>
<path d="M991.9,1511V1563.9M986.9,1511H996.9M986.9,1563.9H996.9" stroke="#000" stroke-width="2.8" fill="none"/>
<circle cx="561.8" cy="1532.8" r="6.2" fill="#00ccff" stroke="#000" stroke-width="1.9"/>
<path d="M561.8,1520V1545M556.8,1520H566.8M556.8,1545H566.8" stroke="#000" stroke-width="2.8" fill="none"/>
<circle cx="572.6" cy="1562.8" r="6.2" fill="#00ccff" stroke="#000" stroke-width="1.9"/>
<path d="M572.6,1542V1606M567.6,1542H577.6M567.6,1606H577.6" stroke="#000" stroke-width="2.8" fill="none"/>
<circle cx="599.1" cy="1574.9" r="6.2" fill="#00ccff" stroke="#000" stroke-width="1.9"/>
<path d="M599.1,1555V1594M594.1,1555H604.1M594.1,1594H604.1" stroke="#000" stroke-width="2.8" fill="none"/>
<circle cx="628.6" cy="1587.7" r="6.2" fill="#00ccff" stroke="#000" stroke-width="1.9"/>
<path d="M628.6,1567V1623M623.6,1567H633.6M623.6,1623H633.6" stroke="#000" stroke-width="2.8" fill="none"/>
<circle cx="638.6" cy="1535.2" r="6.2" fill="#00ccff" stroke="#000" stroke-width="1.9"/>
<path d="M638.6,1515V1555M633.6,1515H643.6M633.6,1555H643.6" stroke="#000" stroke-width="2.8" fill="none"/>
<circle cx="699.5" cy="1507.9" r="6.2" fill="#00ccff" stroke="#000" stroke-width="1.9"/>
<path d="M699.5,1482V1535M694.5,1482H704.5M694.5,1535H704.5" stroke="#000" stroke-width="2.8" fill="none"/>
<circle cx="716.8" cy="1543.5" r="6.2" fill="#00ccff" stroke="#000" stroke-width="1.9"/>
<path d="M716.8,1526V1561M711.8,1526H721.8M711.8,1561H721.8" stroke="#000" stroke-width="2.8" fill="none"/>
<circle cx="763.7" cy="1564.9" r="6.2" fill="#00ccff" stroke="#000" stroke-width="1.9"/>
<path d="M763.7,1546V1616M758.7,1546H768.7M758.7,1616H768.7" stroke="#000" stroke-width="2.8" fill="none"/>
<circle cx="809.4" cy="1562" r="6.2" fill="#00ccff" stroke="#000" stroke-width="1.9"/>
<path d="M809.4,1531V1588M804.4,1531H814.4M804.4,1588H814.4" stroke="#000" stroke-width="2.8" fill="none"/>
<circle cx="846.1" cy="1540.6" r="6.2" fill="#00ccff" stroke="#000" stroke-width="1.9"/>
<path d="M846.1,1508.9V1571.7M841.1,1508.9H851.1M841.1,1571.7H851.1" stroke="#000" stroke-width="2.8" fill="none"/>
<circle cx="873" cy="1512.6" r="6.2" fill="#00ccff" stroke="#000" stroke-width="1.9"/>
<path d="M873,1509V1516M868,1509H878M868,1516H878" stroke="#000" stroke-width="2.8" fill="none"/>
<circle cx="894.8" cy="1535.2" r="6.2" fill="#00ccff" stroke="#000" stroke-width="1.9"/>
<path d="M894.8,1508V1560.8M889.8,1508H899.8M889.8,1560.8H899.8" stroke="#000" stroke-width="2.8" fill="none"/>
<circle cx="561.8" cy="1530.3" r="6.0" fill="#ff99cc" stroke="#000" stroke-width="1.9"/>
<path d="M561.8,1497V1594M556.8,1497H566.8M556.8,1594H566.8" stroke="#000" stroke-width="2.8" fill="none"/>
<circle cx="573" cy="1581.5" r="6.0" fill="#ff99cc" stroke="#000" stroke-width="1.9"/>
<path d="M573,1541V1606M568,1541H578M568,1606H578" stroke="#000" stroke-width="2.8" fill="none"/>
<circle cx="628.6" cy="1593.9" r="6.0" fill="#ff99cc" stroke="#000" stroke-width="1.9"/>
<path d="M628.6,1570V1620M623.6,1570H633.6M623.6,1620H633.6" stroke="#000" stroke-width="2.8" fill="none"/>
<circle cx="638.6" cy="1603.3" r="6.0" fill="#ff99cc" stroke="#000" stroke-width="1.9"/>
<path d="M638.6,1585V1623M633.6,1585H643.6M633.6,1623H643.6" stroke="#000" stroke-width="2.8" fill="none"/>
<circle cx="699.5" cy="1570.1" r="6.0" fill="#ff99cc" stroke="#000" stroke-width="1.9"/>
<path d="M699.5,1537V1601M694.5,1537H704.5M694.5,1601H704.5" stroke="#000" stroke-width="2.8" fill="none"/>
<circle cx="716.8" cy="1612.6" r="6.0" fill="#ff99cc" stroke="#000" stroke-width="1.9"/>
<path d="M716.8,1592V1633M711.8,1592H721.8M711.8,1633H721.8" stroke="#000" stroke-width="2.8" fill="none"/>
<circle cx="763.7" cy="1587.7" r="6.0" fill="#ff99cc" stroke="#000" stroke-width="1.9"/>
<path d="M763.7,1546V1616M758.7,1546H768.7M758.7,1616H768.7" stroke="#000" stroke-width="2.8" fill="none"/>
<circle cx="809.4" cy="1559.7" r="6.0" fill="#ff99cc" stroke="#000" stroke-width="1.9"/>
<path d="M809.4,1530.7V1588.3M804.4,1530.7H814.4M804.4,1588.3H814.4" stroke="#000" stroke-width="2.8" fill="none"/>
<circle cx="873" cy="1619.9" r="6.0" fill="#ff99cc" stroke="#000" stroke-width="1.9"/>
<path d="M873,1585.6V1654.7M868,1585.6H878M868,1654.7H878" stroke="#000" stroke-width="2.8" fill="none"/>
<circle cx="894.8" cy="1594.4" r="6.0" fill="#ff99cc" stroke="#000" stroke-width="1.9"/>
<path d="M894.8,1560.8V1628.2M889.8,1560.8H899.8M889.8,1628.2H899.8" stroke="#000" stroke-width="2.8" fill="none"/>
<polyline points="188.7,1782.2 245.6,1814.6 295.3,1795.9 298.7,1776.0 307.0,1781.4 357.6,1798.8 551.0,1805.0 570.7,1822.4 583.2,1777.6 609.3,1761.7 642.9,1796.3 650.7,1803.1 657.8,1762.7 670.9,1742.5 684.0,1723.8 697.3,1719.1 698.0,1726.9 723.8,1725.3 731.0,1727.8 735.3,1733.7 756.5,1738.4 782.3,1731.6 783.5,1704.5 830.2,1743.4 901.1,1697.3" fill="none" stroke="#000" stroke-width="2.6"/>
<circle cx="188.7" cy="1782.2" r="9" fill="#000"/>
<circle cx="245.6" cy="1814.6" r="9" fill="#000"/>
<circle cx="295.3" cy="1795.9" r="9" fill="#000"/>
<circle cx="298.7" cy="1776" r="9" fill="#000"/>
<circle cx="307" cy="1781.4" r="9" fill="#000"/>
<circle cx="357.6" cy="1798.8" r="9" fill="#000"/>
<circle cx="551" cy="1805" r="9" fill="#000"/>
<circle cx="570.7" cy="1822.4" r="9" fill="#000"/>
<circle cx="583.2" cy="1777.6" r="9" fill="#000"/>
<circle cx="609.3" cy="1761.7" r="9" fill="#000"/>
<circle cx="642.9" cy="1796.3" r="9" fill="#000"/>
<circle cx="650.7" cy="1803.1" r="9" fill="#000"/>
<circle cx="657.8" cy="1762.7" r="9" fill="#000"/>
<circle cx="670.9" cy="1742.5" r="9" fill="#000"/>
<circle cx="684" cy="1723.8" r="9" fill="#000"/>
<circle cx="697.3" cy="1719.1" r="9" fill="#000"/>
<circle cx="698" cy="1726.9" r="9" fill="#000"/>
<circle cx="723.8" cy="1725.3" r="9" fill="#000"/>
<circle cx="731" cy="1727.8" r="9" fill="#000"/>
<circle cx="735.3" cy="1733.7" r="9" fill="#000"/>
<circle cx="756.5" cy="1738.4" r="9" fill="#000"/>
<circle cx="782.3" cy="1731.6" r="9" fill="#000"/>
<circle cx="783.5" cy="1704.5" r="9" fill="#000"/>
<circle cx="830.2" cy="1743.4" r="9" fill="#000"/>
<circle cx="901.1" cy="1697.3" r="9" fill="#000"/>
<polygon points="200.8,1947.0 229.7,1937.8 324.1,1937.4 385.7,1942.4 403.0,1949.3 443.5,1946.2 476.2,1967.4 528.2,1932.7 541.7,1935.4 549.4,1961.6 557.1,1948.2 576.4,1945.5 597.6,1928.9 609.1,1927.7 636.1,1932.7 638.0,1925.0 649.6,1923.1 656.0,1932.0 660.0,1946.0 670.0,1880.0 717.3,1865.0 733.7,1834.2 749.1,1819.7 755.9,1845.7 762.6,1844.4 774.2,1801.4 795.3,1787.9 807.5,1775.0 842.5,1798.5 919.6,1836.1 978.0,1880.0 1026.8,1855.2 1064.0,1918.0 1098.8,1892.0 1156.0,1952.0 1152.8,2019.2 1098.8,1988.8 1064.0,1990.8 1026.8,1943.2 978.0,1959.2 920.0,1932.0 843.2,1907.2 807.2,1888.0 774.8,1905.2 763.2,1964.0 756.8,1940.0 734.8,1946.0 716.0,1961.2 670.0,1969.2 666.9,2000.2 659.2,2046.4 649.6,2019.4 632.2,2007.9 597.6,2023.3 576.4,2026.4 557.1,2000.9 549.4,2011.7 541.7,1989.4 476.2,2027.9 443.5,2002.1 401.1,2000.2 324.1,1984.7 229.7,1981.7 203.9,1988.6" fill="#cccccc" stroke="#808080" stroke-width="2.2" stroke-linejoin="miter"/>
<circle cx="217" cy="1970.5" r="7.9" fill="#cc33ff" stroke="#000" stroke-width="1.9"/>
<path d="M217,1965.9V1975.1M212.4,1965.9H221.6M212.4,1975.1H221.6" stroke="#000" stroke-width="2.6" fill="none"/>
<circle cx="230.9" cy="1968.6" r="7.9" fill="#cc33ff" stroke="#000" stroke-width="1.9"/>
<path d="M230.9,1964.0V1973.1999999999998M226.3,1964.0H235.5M226.3,1973.1999999999998H235.5" stroke="#000" stroke-width="2.6" fill="none"/>
<circle cx="279.8" cy="1973.2" r="7.9" fill="#cc33ff" stroke="#000" stroke-width="1.9"/>
<path d="M279.8,1968.6000000000001V1977.8M275.2,1968.6000000000001H284.40000000000003M275.2,1977.8H284.40000000000003" stroke="#000" stroke-width="2.6" fill="none"/>
<circle cx="322.9" cy="1975.9" r="7.9" fill="#cc33ff" stroke="#000" stroke-width="1.9"/>
<path d="M322.9,1971.3000000000002V1980.5M318.29999999999995,1971.3000000000002H327.5M318.29999999999995,1980.5H327.5" stroke="#000" stroke-width="2.6" fill="none"/>
<circle cx="386.5" cy="1982.8" r="7.9" fill="#cc33ff" stroke="#000" stroke-width="1.9"/>
<path d="M386.5,1978.2V1987.3999999999999M381.9,1978.2H391.1M381.9,1987.3999999999999H391.1" stroke="#000" stroke-width="2.6" fill="none"/>
<circle cx="402.3" cy="1989.8" r="7.9" fill="#cc33ff" stroke="#000" stroke-width="1.9"/>
<path d="M402.3,1985.2V1994.3999999999999M397.7,1985.2H406.90000000000003M397.7,1994.3999999999999H406.90000000000003" stroke="#000" stroke-width="2.6" fill="none"/>
<circle cx="443.5" cy="1986.7" r="7.9" fill="#cc33ff" stroke="#000" stroke-width="1.9"/>
<path d="M443.5,1982.1000000000001V1991.3M438.9,1982.1000000000001H448.1M438.9,1991.3H448.1" stroke="#000" stroke-width="2.6" fill="none"/>
<circle cx="475.5" cy="2007.1" r="7.9" fill="#cc33ff" stroke="#000" stroke-width="1.9"/>
<path d="M475.5,2002.5V2011.6999999999998M470.9,2002.5H480.1M470.9,2011.6999999999998H480.1" stroke="#000" stroke-width="2.6" fill="none"/>
<circle cx="515.9" cy="1972.4" r="7.9" fill="#cc33ff" stroke="#000" stroke-width="1.9"/>
<path d="M515.9,1962.4V1982.4M510.9,1962.4H520.9M510.9,1982.4H520.9" stroke="#000" stroke-width="2.6" fill="none"/>
<circle cx="527.5" cy="1959.7" r="7.9" fill="#cc33ff" stroke="#000" stroke-width="1.9"/>
<path d="M527.5,1949.7V1969.7M522.5,1949.7H532.5M522.5,1969.7H532.5" stroke="#000" stroke-width="2.6" fill="none"/>
<circle cx="541.7" cy="1953.2" r="7.9" fill="#cc33ff" stroke="#000" stroke-width="1.9"/>
<path d="M541.7,1943.2V1963.2M536.7,1943.2H546.7M536.7,1963.2H546.7" stroke="#000" stroke-width="2.6" fill="none"/>
<circle cx="549.4" cy="1983.6" r="7.9" fill="#cc33ff" stroke="#000" stroke-width="1.9"/>
<path d="M549.4,1973.6V1993.6M544.4,1973.6H554.4M544.4,1993.6H554.4" stroke="#000" stroke-width="2.6" fill="none"/>
<circle cx="558.3" cy="1970.5" r="7.9" fill="#cc33ff" stroke="#000" stroke-width="1.9"/>
<path d="M558.3,1960.5V1980.5M553.3,1960.5H563.3M553.3,1980.5H563.3" stroke="#000" stroke-width="2.6" fill="none"/>
<circle cx="576.4" cy="1979.7" r="7.9" fill="#cc33ff" stroke="#000" stroke-width="1.9"/>
<path d="M576.4,1975.1000000000001V1984.3M571.8,1975.1000000000001H581.0M571.8,1984.3H581.0" stroke="#000" stroke-width="2.6" fill="none"/>
<circle cx="597.6" cy="1979" r="7.9" fill="#cc33ff" stroke="#000" stroke-width="1.9"/>
<path d="M597.6,1974.4V1983.6M593.0,1974.4H602.2M593.0,1983.6H602.2" stroke="#000" stroke-width="2.6" fill="none"/>
<circle cx="609.1" cy="1969.3" r="7.9" fill="#cc33ff" stroke="#000" stroke-width="1.9"/>
<path d="M609.1,1959.3V1979.3M604.1,1959.3H614.1M604.1,1979.3H614.1" stroke="#000" stroke-width="2.6" fill="none"/>
<circle cx="636.1" cy="2004.8" r="7.9" fill="#cc33ff" stroke="#000" stroke-width="1.9"/>
<path d="M636.1,1994.8V2014.8M631.1,1994.8H641.1M631.1,2014.8H641.1" stroke="#000" stroke-width="2.6" fill="none"/>
<circle cx="636.9" cy="2013.6" r="7.9" fill="#cc33ff" stroke="#000" stroke-width="1.9"/>
<path d="M636.9,2003.6V2023.6M631.9,2003.6H641.9M631.9,2023.6H641.9" stroke="#000" stroke-width="2.6" fill="none"/>
<circle cx="649.6" cy="1992.4" r="7.9" fill="#cc33ff" stroke="#000" stroke-width="1.9"/>
<path d="M649.6,1982.4V2002.4M644.6,1982.4H654.6M644.6,2002.4H654.6" stroke="#000" stroke-width="2.6" fill="none"/>
<circle cx="659.2" cy="2003.2" r="7.9" fill="#cc33ff" stroke="#000" stroke-width="1.9"/>
<path d="M659.2,1991.2V2015.2M654.2,1991.2H664.2M654.2,2015.2H664.2" stroke="#000" stroke-width="2.6" fill="none"/>
<circle cx="670.8" cy="1925.2" r="7.9" fill="#cc33ff" stroke="#000" stroke-width="1.9"/>
<path d="M670.8,1915.2V1935.2M665.8,1915.2H675.8M665.8,1935.2H675.8" stroke="#000" stroke-width="2.6" fill="none"/>
<circle cx="716" cy="1913.2" r="7.9" fill="#cc33ff" stroke="#000" stroke-width="1.9"/>
<path d="M716,1903.2V1923.2M711,1903.2H721M711,1923.2H721" stroke="#000" stroke-width="2.6" fill="none"/>
<circle cx="733.2" cy="1890" r="7.9" fill="#cc33ff" stroke="#000" stroke-width="1.9"/>
<path d="M733.2,1873V1907M728.2,1873H738.2M728.2,1907H738.2" stroke="#000" stroke-width="2.6" fill="none"/>
<circle cx="748" cy="1880" r="7.9" fill="#cc33ff" stroke="#000" stroke-width="1.9"/>
<path d="M748,1860V1900M743,1860H753M743,1900H753" stroke="#000" stroke-width="2.6" fill="none"/>
<circle cx="756" cy="1892.8" r="7.9" fill="#cc33ff" stroke="#000" stroke-width="1.9"/>
<path d="M756,1880.8V1904.8M751,1880.8H761M751,1904.8H761" stroke="#000" stroke-width="2.6" fill="none"/>
<circle cx="762.8" cy="1903.2" r="7.9" fill="#cc33ff" stroke="#000" stroke-width="1.9"/>
<path d="M762.8,1885.2V1921.2M757.8,1885.2H767.8M757.8,1921.2H767.8" stroke="#000" stroke-width="2.6" fill="none"/>
<circle cx="774.7" cy="1853.4" r="7.9" fill="#cc33ff" stroke="#000" stroke-width="1.9"/>
<path d="M774.7,1840.4V1866.4M769.7,1840.4H779.7M769.7,1866.4H779.7" stroke="#000" stroke-width="2.6" fill="none"/>
<circle cx="795.3" cy="1841.3" r="7.9" fill="#cc33ff" stroke="#000" stroke-width="1.9"/>
<path d="M795.3,1826.8V1855.8M790.3,1826.8H800.3M790.3,1855.8H800.3" stroke="#000" stroke-width="2.6" fill="none"/>
<circle cx="807.5" cy="1832.2" r="7.9" fill="#cc33ff" stroke="#000" stroke-width="1.9"/>
<path d="M807.5,1815.2V1849.2M802.5,1815.2H812.5M802.5,1849.2H812.5" stroke="#000" stroke-width="2.6" fill="none"/>
<circle cx="843.1" cy="1853.4" r="7.9" fill="#cc33ff" stroke="#000" stroke-width="1.9"/>
<path d="M843.1,1836.4V1870.4M838.1,1836.4H848.1M838.1,1870.4H848.1" stroke="#000" stroke-width="2.6" fill="none"/>
<circle cx="918.8" cy="1884" r="7.9" fill="#cc33ff" stroke="#000" stroke-width="1.9"/>
<path d="M918.8,1863.6V1904.4M913.8,1863.6H923.8M913.8,1904.4H923.8" stroke="#000" stroke-width="2.6" fill="none"/>
<circle cx="978" cy="1939.2" r="7.9" fill="#cc33ff" stroke="#000" stroke-width="1.9"/>
<path d="M978,1920.4V1958.0M973,1920.4H983M973,1958.0H983" stroke="#000" stroke-width="2.6" fill="none"/>
<circle cx="1026.8" cy="1902" r="7.9" fill="#cc33ff" stroke="#000" stroke-width="1.9"/>
<path d="M1026.8,1878V1926M1021.8,1878H1031.8M1021.8,1926H1031.8" stroke="#000" stroke-width="2.6" fill="none"/>
<circle cx="1064" cy="1948.8" r="7.9" fill="#cc33ff" stroke="#000" stroke-width="1.9"/>
<path d="M1064,1931.6V1966.0M1059,1931.6H1069M1059,1966.0H1069" stroke="#000" stroke-width="2.6" fill="none"/>
<circle cx="1098.8" cy="1932.8" r="7.9" fill="#cc33ff" stroke="#000" stroke-width="1.9"/>
<path d="M1098.8,1903.8V1961.8M1093.8,1903.8H1103.8M1093.8,1961.8H1103.8" stroke="#000" stroke-width="2.6" fill="none"/>
<circle cx="1146" cy="1970" r="7.9" fill="#cc33ff" stroke="#000" stroke-width="1.9"/>
<path d="M1146,1953V1987M1141,1953H1151M1141,1987H1151" stroke="#000" stroke-width="2.6" fill="none"/>
<polygon points="183.0,2053.4 185.3,2053.4 185.3,2052.1 187.2,2052.1 187.2,2057.5 190.0,2057.5 190.0,2066.0 192.2,2066.0 192.2,2062.0 195.1,2062.0 195.1,2070.6 197.8,2070.6 199.1,2054.2 201.7,2072.3 204.5,2068.2 207.4,2070.6 208.8,2066.1 211.2,2066.1 212.2,2068.2 214.8,2064.2 216.3,2058.5 218.4,2058.5 219.6,2066.4 222.3,2067.9 223.7,2061.6 226.2,2061.6 227.1,2066.6 228.0,2052.5 230.2,2052.5 231.1,2053.8 233.1,2063.3 235.3,2064.1 237.4,2061.1 239.6,2057.2 240.7,2059.7 243.2,2059.7 243.2,2063.7 245.3,2063.7 246.9,2064.1 248.4,2059.4 250.5,2059.4 252.1,2053.2 253.8,2057.8 256.9,2057.8 258.6,2059.6 260.3,2051.5 262.4,2051.5 263.6,2060.4 266.1,2059.8 268.7,2058.4 271.0,2047.3 273.6,2059.8 276.5,2059.3 277.9,2050.3 280.6,2050.3 281.5,2057.8 282.5,2055.9 285.7,2055.9 285.7,2060.5 288.8,2060.5 290.3,2061.1 291.8,2055.0 293.7,2055.0 293.7,2059.9 295.9,2059.9 295.9,2051.5 299.2,2051.5 299.2,2043.6 302.5,2043.6 302.5,2044.5 305.2,2044.5 305.2,2057.7 307.3,2057.7 307.3,2057.8 309.1,2057.8 310.8,2058.5 313.7,2054.7 315.0,2050.9 317.5,2050.9 317.5,2053.3 319.4,2053.3 320.4,2055.5 323.1,2047.6 324.8,2049.0 327.4,2049.0 328.8,2054.2 330.2,2051.2 332.5,2051.2 334.1,2053.1 337.2,2051.6 339.7,2042.9 342.1,2053.3 343.5,2050.1 346.4,2050.1 348.1,2053.2 351.2,2044.0 352.6,2054.6 354.5,2054.6 355.7,2053.4 358.3,2051.3 360.9,2055.3 362.3,2054.8 365.2,2054.8 365.2,2055.4 367.5,2055.4 367.5,2055.5 370.6,2055.5 370.6,2050.2 373.1,2050.2 374.0,2051.2 376.2,2050.5 378.8,2051.9 380.1,2046.7 382.4,2046.7 382.4,2054.6 385.7,2054.6 386.7,2055.0 387.8,2055.2 389.8,2055.2 389.8,2052.0 393.0,2052.0 394.0,2045.5 396.0,2055.3 398.1,2056.8 399.0,2051.5 401.4,2051.5 402.4,2054.1 404.7,2054.1 407.0,2056.1 409.2,2048.6 410.4,2041.4 413.6,2041.4 413.6,2043.0 416.2,2043.0 417.4,2043.2 418.6,2048.1 421.9,2048.1 423.2,2054.5 425.7,2047.8 428.4,2047.6 429.9,2050.1 432.8,2050.1 434.4,2042.2 437.0,2047.0 438.0,2040.1 440.4,2040.1 440.4,2050.3 443.7,2050.3 444.8,2054.7 446.0,2061.1 447.8,2061.1 449.1,2052.2 450.3,2065.4 453.1,2065.4 454.6,2051.0 456.1,2046.0 459.5,2046.0 460.7,2053.0 461.9,2055.3 465.1,2055.3 465.1,2056.7 467.3,2056.7 467.3,2056.6 469.9,2056.6 471.4,2045.8 474.6,2056.7 476.3,2055.8 479.0,2055.8 479.0,2058.8 481.9,2058.8 482.9,2051.7 485.0,2064.2 486.0,2062.6 488.7,2062.6 490.1,2062.6 493.2,2050.1 496.2,2052.0 498.9,2049.9 501.2,2055.1 502.1,2061.2 505.2,2061.2 506.4,2055.2 508.9,2063.4 510.3,2068.1 512.6,2068.1 512.6,2058.0 514.4,2058.0 515.7,2076.0 517.0,2080.3 519.8,2080.3 521.0,2075.1 522.2,2073.9 524.3,2073.9 524.3,2078.6 527.6,2078.6 527.6,2068.2 529.6,2068.2 529.6,2082.7 531.7,2082.7 532.7,2085.7 535.3,2093.3 536.9,2092.2 540.3,2092.2 541.2,2086.2 543.3,2081.3 544.5,2086.4 546.5,2086.4 546.5,2079.3 548.7,2079.3 549.7,2098.6 552.0,2105.6 553.1,2099.7 556.4,2099.7 556.4,2094.5 558.3,2094.5 558.3,2102.1 561.0,2102.1 561.0,2107.2 564.3,2107.2 565.5,2144.8 568.4,2149.8 569.9,2135.3 572.2,2135.3 572.2,2154.0 575.5,2154.0 576.9,2155.4 578.3,2156.4 581.4,2156.4 581.4,2152.4 583.4,2152.4 584.3,2164.9 585.2,2161.1 588.0,2161.1 589.6,2154.1 591.2,2162.6 594.3,2162.6 594.3,2147.9 596.8,2147.9 598.1,2126.5 599.4,2132.7 602.4,2132.7 603.4,2120.8 605.8,2127.3 608.1,2146.8 609.1,2143.7 611.4,2143.7 611.4,2134.0 613.6,2134.0 613.6,2126.1 616.3,2126.1 617.9,2106.1 620.7,2109.8 622.0,2126.8 624.0,2126.8 625.5,2119.9 627.0,2114.8 629.5,2114.8 629.5,2117.3 632.6,2117.3 633.8,2126.8 636.1,2128.5 638.6,2127.7 640.0,2110.5 642.8,2110.5 642.8,2102.1 646.1,2102.1 647.0,2091.0 649.3,2086.1 651.9,2081.8 653.1,2082.5 656.5,2082.5 657.7,2130.3 660.4,2136.6 663.3,2163.0 665.9,2153.2 667.2,2173.2 669.6,2173.2 669.6,2177.1 671.9,2177.1 671.9,2174.9 675.0,2174.9 675.0,2169.8 677.9,2169.8 678.9,2169.7 681.5,2176.2 684.2,2186.7 685.2,2191.0 687.5,2191.0 688.8,2174.9 691.6,2182.7 694.6,2170.0 697.6,2174.5 700.5,2170.7 702.9,2187.0 705.6,2168.5 708.6,2152.4 711.5,2154.5 714.3,2157.4 715.7,2164.7 717.8,2164.7 717.8,2157.2 720.8,2157.2 722.2,2148.1 725.3,2146.3 726.9,2144.6 729.5,2144.6 730.9,2132.8 733.9,2147.6 735.3,2147.2 737.3,2147.2 737.3,2154.5 740.2,2154.5 741.7,2156.9 744.6,2160.7 746.1,2153.8 748.5,2153.8 750.2,2149.6 753.2,2146.0 756.2,2139.8 759.5,2165.6 761.1,2164.7 764.2,2164.7 765.8,2172.7 767.3,2172.8 769.4,2172.8 771.0,2171.6 773.8,2162.8 775.2,2186.3 777.8,2186.3 777.8,2182.1 780.9,2182.1 780.9,2163.5 784.3,2163.5 784.3,2157.0 787.3,2157.0 787.3,2162.4 790.0,2162.4 791.2,2156.4 792.4,2167.3 794.9,2167.3 794.9,2172.0 797.1,2172.0 798.5,2165.7 800.0,2169.0 802.3,2169.0 803.4,2167.2 806.1,2161.7 807.8,2172.7 810.3,2172.7 810.3,2152.2 812.2,2152.2 813.8,2167.8 815.3,2166.5 818.7,2166.5 818.7,2163.9 820.8,2163.9 820.8,2152.6 824.0,2152.6 824.0,2155.1 825.8,2155.1 825.8,2172.4 827.9,2172.4 829.2,2173.7 830.5,2178.2 832.6,2178.2 832.6,2175.3 834.9,2175.3 836.0,2184.2 838.5,2172.5 839.8,2175.6 842.7,2175.6 842.7,2193.7 845.4,2193.7 846.9,2189.9 848.5,2173.6 851.1,2173.6 852.4,2161.1 853.7,2178.9 856.4,2178.9 856.4,2190.9 859.6,2190.9 860.7,2195.2 862.8,2192.5 865.1,2194.3 866.4,2187.4 869.7,2187.4 870.8,2184.1 872.0,2175.0 874.6,2175.0 874.6,2181.0 877.9,2181.0 878.9,2175.7 881.3,2184.8 883.9,2181.1 885.2,2186.2 887.6,2186.2 887.6,2166.7 889.8,2166.7 889.8,2160.8 892.3,2160.8 893.5,2171.0 896.2,2164.8 899.3,2174.5 900.9,2172.7 903.3,2172.7 903.3,2180.0 906.3,2180.0 907.9,2173.4 909.5,2188.2 912.7,2188.2 914.4,2184.6 916.0,2170.2 918.7,2170.2 918.7,2174.4 921.4,2174.4 921.4,2174.3 923.8,2174.3 923.8,2172.3 926.6,2172.3 928.3,2158.8 930.0,2152.5 933.2,2152.5 933.2,2156.9 936.0,2156.9 937.6,2155.0 940.2,2164.7 941.2,2195.6 943.7,2195.6 943.7,2198.1 946.8,2198.1 946.8,2190.7 949.2,2190.7 949.2,2205.2 951.6,2205.2 952.7,2203.8 953.8,2198.0 956.1,2198.0 957.5,2199.6 959.0,2197.3 961.1,2197.3 961.1,2182.4 963.5,2182.4 963.5,2197.7 965.8,2197.7 966.7,2186.7 968.9,2193.2 970.1,2182.7 972.6,2182.7 972.6,2185.6 975.4,2185.6 975.4,2196.8 977.8,2196.8 979.4,2191.1 981.9,2193.9 984.5,2198.9 987.3,2191.7 988.5,2202.3 990.5,2202.3 990.5,2205.0 992.8,2205.0 992.8,2200.6 995.5,2200.6 995.5,2183.6 998.6,2183.6 998.6,2195.9 1000.6,2195.9 1000.6,2191.9 1003.0,2191.9 1003.0,2202.0 1006.0,2202.0 1007.2,2194.0 1008.4,2207.1 1011.1,2207.1 1011.1,2215.8 1013.2,2215.8 1013.2,2212.1 1015.9,2212.1 1017.0,2204.5 1018.2,2190.6 1021.2,2190.6 1021.2,2197.8 1024.1,2197.8 1025.1,2196.1 1027.0,2177.4 1029.7,2176.6 1032.4,2190.9 1034.6,2199.1 1037.3,2203.6 1040.5,2204.7 1042.1,2209.1 1045.0,2209.1 1045.0,2207.5 1048.0,2207.5 1049.4,2200.4 1050.8,2200.3 1054.1,2200.3 1055.1,2195.8 1056.0,2178.8 1059.4,2178.8 1059.4,2183.9 1062.7,2183.9 1064.1,2199.0 1066.9,2194.9 1069.8,2194.0 1071.4,2160.1 1074.1,2160.1 1075.7,2126.7 1078.9,2151.4 1080.4,2182.8 1083.5,2182.8 1084.9,2207.7 1088.0,2211.9 1089.6,2210.2 1091.6,2210.2 1091.6,2193.6 1093.6,2193.6 1093.6,2200.3 1096.1,2200.3 1097.2,2186.9 1100.0,2185.3 1101.6,2174.1 1103.7,2174.1 1105.0,2154.5 1106.2,2156.3 1108.2,2156.3 1108.2,2146.7 1111.0,2146.7 1112.4,2153.7 1115.5,2182.9 1118.6,2210.3 1120.0,2207.1 1122.3,2207.1 1122.3,2212.7 1124.8,2212.7 1124.8,2205.2 1127.0,2205.2 1128.3,2201.8 1131.3,2213.6 1134.2,2216.6 1135.3,2214.3 1137.6,2214.3 1139.2,2220.9 1142.3,2208.0 1143.8,2218.1 1147.1,2218.1 1147.1,2204.4 1149.5,2204.4 1150.6,2214.6 1151.7,2237.4 1149.5,2237.4 1148.3,2239.8 1145.5,2241.7 1142.3,2244.9 1140.7,2246.8 1137.6,2246.8 1136.5,2260.8 1135.3,2259.5 1133.0,2259.5 1131.3,2253.8 1128.3,2233.7 1127.0,2235.3 1124.8,2235.3 1124.8,2235.2 1122.3,2235.2 1121.2,2238.9 1118.6,2234.7 1115.5,2207.2 1112.4,2192.2 1111.0,2168.5 1108.2,2168.5 1108.2,2182.4 1106.2,2182.4 1106.2,2214.0 1103.7,2214.0 1102.7,2205.8 1101.6,2218.5 1098.3,2218.5 1097.2,2229.6 1094.8,2255.0 1093.6,2239.4 1091.6,2239.4 1090.6,2238.8 1088.0,2238.9 1084.9,2238.1 1083.5,2219.5 1080.4,2219.5 1080.4,2175.1 1077.3,2175.1 1077.3,2176.4 1074.1,2176.4 1074.1,2197.5 1071.4,2197.5 1071.4,2229.8 1068.2,2229.8 1068.2,2229.8 1065.6,2229.8 1065.6,2222.3 1062.7,2222.3 1062.7,2222.0 1059.4,2222.0 1057.7,2222.8 1055.1,2221.6 1054.1,2223.3 1050.8,2223.3 1049.4,2227.3 1048.0,2234.0 1045.0,2234.0 1045.0,2241.8 1042.1,2241.8 1042.1,2247.3 1038.9,2247.3 1037.3,2224.9 1035.7,2227.0 1033.4,2227.0 1032.4,2240.1 1031.3,2227.8 1028.0,2227.8 1027.0,2234.7 1025.1,2240.7 1024.1,2221.4 1021.2,2221.4 1021.2,2235.6 1018.2,2235.6 1018.2,2250.9 1015.9,2250.9 1014.5,2261.7 1013.2,2238.5 1011.1,2238.5 1011.1,2248.3 1008.4,2248.3 1008.4,2255.5 1006.0,2255.5 1004.5,2234.4 1001.8,2231.3 999.6,2223.2 998.6,2225.9 995.5,2225.9 995.5,2227.7 992.8,2227.7 991.6,2227.4 990.5,2243.7 988.5,2243.7 988.5,2236.7 986.1,2236.7 986.1,2232.3 982.9,2232.3 981.9,2243.4 980.9,2230.3 977.8,2230.3 977.8,2226.2 975.4,2226.2 974.0,2225.3 972.6,2224.1 970.1,2224.1 970.1,2240.8 967.7,2240.8 967.7,2225.8 965.8,2225.8 964.6,2218.9 963.5,2219.5 961.1,2219.5 960.0,2235.6 959.0,2223.2 956.1,2223.2 956.1,2230.4 953.8,2230.4 952.7,2231.5 950.4,2232.7 949.2,2228.5 946.8,2228.5 945.2,2235.3 942.4,2226.2 940.2,2205.1 937.6,2191.7 936.0,2183.9 933.2,2183.9 933.2,2187.4 930.0,2187.4 928.3,2203.9 926.6,2202.3 923.8,2202.3 923.8,2203.0 921.4,2203.0 921.4,2204.7 918.7,2204.7 918.7,2201.9 916.0,2201.9 914.4,2204.2 912.7,2217.4 909.5,2217.4 909.5,2224.4 906.3,2224.4 904.8,2204.9 903.3,2205.8 900.9,2205.8 899.3,2200.5 897.7,2194.1 894.7,2194.1 893.5,2200.9 892.3,2202.2 889.8,2202.2 889.8,2208.0 887.6,2208.0 886.4,2214.3 885.2,2215.9 882.6,2215.9 881.3,2210.8 878.9,2223.7 877.9,2206.6 874.6,2206.6 873.3,2215.1 872.0,2211.0 869.7,2211.0 868.1,2218.8 865.1,2227.5 863.8,2237.3 861.9,2237.3 860.7,2226.5 859.6,2217.7 856.4,2217.7 856.4,2205.4 853.7,2205.4 853.7,2211.8 851.1,2211.8 851.1,2199.2 848.5,2199.2 846.9,2218.2 845.4,2227.3 842.7,2227.3 841.2,2219.1 839.8,2212.9 837.1,2212.9 837.1,2224.7 834.9,2224.7 833.8,2227.8 831.5,2204.3 829.2,2196.7 826.9,2208.8 824.9,2195.8 824.0,2212.1 820.8,2212.1 820.8,2194.7 818.7,2194.7 818.7,2207.8 815.3,2207.8 815.3,2191.0 812.2,2191.0 812.2,2209.5 810.3,2209.5 810.3,2201.8 807.8,2201.8 806.1,2225.2 804.5,2215.0 802.3,2215.0 802.3,2218.3 800.0,2218.3 798.5,2206.2 796.0,2201.9 794.9,2191.4 792.4,2191.4 791.2,2196.6 788.7,2192.5 787.3,2207.7 784.3,2207.7 782.6,2211.2 780.9,2207.8 777.8,2207.8 776.5,2206.9 775.2,2198.1 772.5,2198.1 772.5,2197.6 769.4,2197.6 768.4,2200.6 767.3,2215.4 764.2,2215.4 762.6,2196.3 761.1,2192.4 757.8,2192.4 756.2,2176.5 753.2,2171.4 750.2,2181.7 748.5,2187.6 746.1,2187.6 746.1,2188.1 743.2,2188.1 743.2,2197.4 740.2,2197.4 740.2,2173.7 737.3,2173.7 736.3,2177.6 733.9,2168.5 732.4,2184.3 729.5,2184.3 729.5,2177.6 726.9,2177.6 725.3,2169.0 722.2,2184.5 720.8,2183.0 717.8,2183.0 716.7,2190.9 715.7,2183.8 712.9,2183.8 711.5,2188.0 708.6,2202.6 707.1,2204.9 704.0,2204.9 702.9,2230.3 700.5,2211.2 699.2,2200.2 696.0,2200.2 696.0,2202.9 693.2,2202.9 693.2,2224.1 690.1,2224.1 688.8,2220.4 687.5,2226.8 685.2,2226.8 684.2,2216.0 681.5,2207.1 679.9,2216.4 677.9,2216.4 677.9,2189.0 675.0,2189.0 673.5,2201.8 670.7,2203.8 669.6,2204.1 667.2,2204.1 667.2,2193.8 664.6,2193.8 663.3,2192.5 661.9,2174.4 658.9,2174.4 658.9,2153.5 656.5,2153.5 654.8,2119.0 653.1,2103.1 650.7,2103.1 649.3,2108.7 648.0,2109.1 646.1,2109.1 644.4,2121.6 641.4,2128.7 638.6,2157.5 636.1,2153.6 635.0,2152.3 632.6,2152.3 631.0,2139.1 629.5,2142.2 627.0,2142.2 625.5,2150.7 623.0,2154.0 622.0,2139.6 619.4,2139.6 619.4,2139.6 616.3,2139.6 616.3,2150.4 613.6,2150.4 613.6,2157.3 611.4,2157.3 611.4,2179.4 609.1,2179.4 608.1,2164.9 607.1,2172.4 604.5,2172.4 604.5,2157.3 602.4,2157.3 602.4,2167.0 599.4,2167.0 599.4,2160.1 596.8,2160.1 595.6,2175.5 594.3,2189.2 591.2,2189.2 589.6,2197.8 586.6,2183.2 585.2,2183.7 583.4,2183.7 583.4,2179.9 581.4,2179.9 579.9,2178.3 576.9,2178.5 573.8,2174.9 571.0,2183.6 568.4,2169.9 565.5,2166.6 562.6,2145.0 561.0,2133.5 558.3,2133.5 558.3,2113.1 556.4,2113.1 556.4,2132.2 553.1,2132.2 553.1,2123.9 550.8,2123.9 550.8,2113.4 548.7,2113.4 547.6,2112.7 546.5,2112.2 544.5,2112.2 543.3,2106.1 541.2,2107.0 538.6,2109.2 536.9,2111.9 533.7,2111.9 532.7,2104.4 530.7,2101.2 529.6,2096.0 527.6,2096.0 526.0,2107.4 523.3,2094.3 521.0,2092.7 518.4,2097.0 517.0,2098.9 514.4,2098.9 514.4,2088.0 512.6,2088.0 512.6,2085.7 510.3,2085.7 508.9,2091.2 507.6,2079.2 505.2,2079.2 505.2,2076.3 502.1,2076.3 502.1,2074.3 500.2,2074.3 500.2,2078.7 497.6,2078.7 497.6,2076.3 494.8,2076.3 494.8,2075.0 491.6,2075.0 491.6,2074.9 488.7,2074.9 488.7,2078.6 486.0,2078.6 486.0,2090.1 484.0,2090.1 482.9,2077.2 481.9,2071.1 479.0,2071.1 477.7,2080.1 476.3,2089.8 473.0,2089.8 471.4,2083.7 469.9,2074.7 467.3,2074.7 466.2,2074.8 465.1,2072.1 461.9,2072.1 461.9,2072.4 459.5,2072.4 459.5,2068.7 456.1,2068.7 454.6,2073.9 453.1,2080.6 450.3,2080.6 449.1,2084.9 447.8,2076.8 446.0,2076.8 444.8,2067.4 442.1,2065.2 439.2,2081.9 438.0,2073.1 436.1,2073.1 436.1,2069.0 432.8,2069.0 432.8,2072.0 429.9,2072.0 429.9,2086.4 426.9,2086.4 425.7,2082.3 424.5,2068.1 421.9,2068.1 420.2,2073.7 418.6,2073.6 416.2,2073.6 416.2,2072.0 413.6,2072.0 413.6,2070.5 410.4,2070.5 409.2,2072.9 407.0,2079.7 406.0,2083.9 403.5,2083.9 402.4,2073.0 401.4,2073.9 399.0,2073.9 399.0,2072.9 397.1,2072.9 396.0,2070.6 394.9,2074.5 393.0,2074.5 393.0,2070.4 389.8,2070.4 388.8,2076.4 387.8,2088.6 385.7,2088.6 385.7,2071.8 382.4,2071.8 381.2,2073.7 378.8,2067.5 376.2,2073.4 375.0,2077.9 373.1,2077.9 373.1,2071.3 370.6,2071.3 370.6,2073.7 367.5,2073.7 366.3,2069.6 365.2,2079.5 362.3,2079.5 360.9,2085.1 359.5,2082.1 357.0,2082.1 357.0,2083.8 354.5,2083.8 353.5,2071.9 352.6,2068.2 349.7,2068.2 348.1,2069.9 345.0,2085.7 342.1,2067.2 339.7,2069.7 338.8,2071.6 335.7,2071.6 334.1,2084.2 331.3,2069.1 330.2,2073.6 327.4,2073.6 327.4,2076.7 324.8,2076.7 324.8,2071.4 321.5,2071.4 321.5,2071.0 319.4,2071.0 319.4,2083.8 317.5,2083.8 317.5,2070.0 315.0,2070.0 313.7,2076.7 312.4,2075.9 309.1,2075.9 309.1,2070.5 307.3,2070.5 307.3,2083.7 305.2,2083.7 305.2,2079.8 302.5,2079.8 302.5,2091.4 299.2,2091.4 299.2,2076.4 295.9,2076.4 295.9,2074.7 293.7,2074.7 292.7,2086.1 290.3,2085.4 288.8,2075.5 285.7,2075.5 284.1,2074.2 282.5,2091.5 280.6,2091.5 280.6,2078.9 277.9,2078.9 277.9,2079.8 275.2,2079.8 275.2,2077.7 272.0,2077.7 271.0,2075.3 268.7,2077.6 267.4,2080.1 264.8,2080.1 263.6,2078.2 261.3,2086.5 258.6,2078.2 256.9,2079.3 253.8,2079.3 253.8,2076.1 250.5,2076.1 250.5,2077.4 248.4,2077.4 248.4,2080.2 245.3,2080.2 244.3,2080.3 243.2,2083.2 240.7,2083.2 239.6,2087.7 237.4,2083.8 236.4,2078.4 234.1,2078.4 233.1,2077.8 231.1,2086.5 230.2,2080.7 228.0,2080.7 228.0,2093.9 226.2,2093.9 226.2,2090.9 223.7,2090.9 223.7,2085.6 220.8,2085.6 219.6,2083.6 218.4,2081.6 216.3,2081.6 214.8,2082.4 212.2,2093.9 210.0,2088.5 208.8,2086.9 205.9,2086.9 205.9,2086.8 203.0,2086.8 203.0,2088.2 200.4,2088.2 200.4,2099.5 197.8,2099.5 196.4,2086.4 195.1,2097.4 192.2,2097.4 191.1,2078.6 188.6,2078.3 187.2,2075.0 185.3,2075.0 184.2,2079.7" fill="#cbcbcb" stroke="none"/>
<polyline points="183.7,2071.0 185.6,2069.4 187.2,2066.1 189.6,2072.9 191.8,2072.3 193.9,2078.3 195.7,2080.9 198.1,2079.5 200.6,2079.1 202.7,2074.4 204.2,2078.1 206.6,2074.3 208.3,2073.1 209.9,2075.9 211.9,2072.8 214.4,2075.7 216.1,2071.8 217.8,2072.9 219.6,2070.9 221.8,2074.5 223.8,2074.2 225.4,2074.7 227.6,2070.7 229.2,2070.2 231.7,2074.1 233.4,2070.1 235.4,2072.3 237.8,2068.8 240.3,2071.5 242.0,2067.7 243.8,2067.7 245.6,2068.1 248.1,2070.2 250.3,2067.4 252.7,2070.0 254.6,2070.9 256.3,2070.9 258.2,2069.2 260.7,2067.4 262.4,2066.0 264.1,2070.0 266.0,2065.4 268.4,2065.1 270.2,2069.8 271.7,2065.7 273.7,2068.3 276.3,2065.8 277.9,2065.3 279.9,2068.0 281.6,2064.6 283.2,2068.1 285.7,2065.0 288.2,2068.6 290.1,2067.2 291.6,2065.1 293.6,2067.5 295.1,2063.5 297.2,2067.1 299.8,2062.7 301.7,2063.6 304.3,2066.1 306.2,2063.4 307.7,2062.4 309.5,2062.2 311.3,2065.1 313.7,2061.5 315.3,2061.5 317.5,2065.1 320.0,2062.3 322.5,2061.1 325.1,2063.8 327.4,2060.9 329.3,2060.4 331.6,2063.3 333.7,2060.5 335.5,2064.0 337.7,2059.6 339.5,2062.2 341.6,2062.9 344.0,2060.0 346.4,2062.8 348.8,2058.8 350.3,2059.7 352.7,2060.2 354.5,2062.2 356.9,2059.5 358.5,2062.7 360.8,2062.8 363.1,2059.0 365.4,2062.6 367.1,2059.7 369.1,2062.0 371.2,2060.3 373.5,2062.5 375.2,2058.9 377.4,2063.5 379.4,2059.0 381.3,2062.1 383.2,2059.1 385.2,2063.2 387.1,2062.8 389.6,2060.3 391.9,2060.1 393.7,2062.6 395.6,2063.6 398.1,2059.9 400.3,2063.8 402.7,2060.8 405.2,2064.1 407.2,2060.4 409.6,2064.3 411.8,2061.2 414.2,2062.1 415.7,2065.3 417.3,2060.3 418.9,2063.8 420.9,2061.9 422.9,2058.3 425.3,2056.9 427.2,2060.2 429.7,2056.1 431.6,2057.9 433.7,2057.5 435.3,2053.9 437.6,2052.7 439.4,2057.3 441.3,2056.3 443.4,2062.1 445.1,2067.7 446.7,2068.0 448.6,2076.4 450.4,2069.9 452.7,2070.3 454.7,2062.0 457.2,2062.2 459.4,2060.8 461.0,2060.1 463.5,2064.2 465.5,2064.7 467.4,2061.9 469.0,2060.9 470.6,2064.5 473.2,2065.5 475.0,2061.9 476.6,2065.5 478.2,2062.6 479.9,2067.0 482.0,2066.6 483.9,2067.7 486.3,2072.2 487.8,2067.6 489.6,2070.3 491.6,2065.8 493.8,2068.1 495.5,2069.1 498.0,2067.5 499.9,2063.1 502.4,2068.7 504.8,2068.3 506.4,2072.8 508.9,2071.9 511.4,2077.6 514.0,2079.5 516.2,2083.7 518.2,2087.6 519.9,2088.0 521.5,2083.3 523.6,2086.5 525.6,2082.6 527.2,2084.8 529.4,2086.5 531.6,2094.6 534.1,2098.5 536.6,2099.4 538.2,2101.9 540.2,2096.2 542.2,2100.0 544.3,2098.5 546.2,2102.0 548.0,2101.5 550.5,2111.5 552.5,2114.1 554.8,2106.2 556.5,2105.0 558.4,2113.7 560.9,2129.4 562.6,2152.7 564.9,2160.9 567.1,2157.9 569.2,2160.3 571.1,2165.0 573.6,2166.1 575.6,2164.7 577.4,2167.7 579.0,2165.5 580.7,2171.5 583.3,2168.6 585.3,2167.9 587.8,2171.3 589.6,2180.1 591.9,2178.9 593.8,2171.5 596.0,2156.0 598.5,2142.0 600.8,2137.5 602.9,2143.0 605.3,2150.7 607.8,2157.2 609.5,2154.1 611.3,2149.3 613.0,2138.4 615.0,2134.2 617.3,2126.0 619.7,2129.0 622.1,2133.1 624.3,2137.8 626.4,2128.9 628.0,2126.4 629.6,2130.6 631.7,2133.7 633.5,2141.7 635.7,2140.6 637.5,2133.0 639.7,2122.6 641.9,2110.8 643.6,2105.9 645.5,2101.0 647.7,2094.2 649.8,2095.6 652.3,2095.8 654.0,2109.6 655.7,2135.9 658.1,2154.9 659.7,2171.5 661.8,2175.9 664.3,2180.8 666.4,2184.3 668.3,2189.8 670.3,2191.1 672.8,2179.8 675.3,2179.9 677.6,2182.1 679.9,2186.3 682.2,2199.5 683.9,2205.5 685.5,2205.0 687.1,2200.1 689.3,2195.1 691.1,2188.4 693.7,2186.0 695.9,2186.0 698.2,2194.3 699.9,2193.6 702.3,2198.2 704.3,2194.4 706.7,2177.8 708.2,2174.3 710.8,2166.2 712.6,2175.7 714.5,2170.5 716.3,2176.1 718.8,2166.5 721.3,2166.2 723.5,2162.7 725.2,2153.0 727.3,2160.2 729.1,2159.7 731.2,2159.9 733.0,2154.8 735.4,2164.2 737.9,2162.3 739.5,2169.2 741.7,2171.6 743.4,2173.3 745.9,2166.2 748.3,2167.1 750.6,2162.3 753.0,2156.1 755.4,2169.5 757.7,2170.4 759.5,2180.1 761.6,2176.9 763.7,2185.3 765.5,2180.9 768.0,2181.7 770.3,2184.6 772.8,2190.9 775.0,2199.5 777.3,2192.5 779.1,2186.6 781.5,2177.3 783.2,2180.6 785.8,2175.0 788.1,2179.8 789.9,2179.3 791.6,2176.5 793.6,2184.6 795.1,2187.9 796.8,2183.8 798.7,2192.8 801.1,2190.0 803.5,2186.3 805.8,2187.9 807.8,2182.9 810.1,2184.8 812.2,2176.5 814.6,2180.9 817.2,2176.5 818.7,2178.5 820.7,2174.6 822.7,2177.5 824.7,2183.8 827.0,2181.2 828.7,2189.1 830.5,2184.9 833.1,2188.4 835.6,2192.4 837.2,2196.4 839.6,2205.5 841.4,2202.6 843.6,2209.5 845.1,2198.1 847.6,2194.8 849.2,2184.0 851.6,2188.7 854.1,2199.0 856.5,2202.8 858.6,2211.3 860.4,2205.6 862.7,2200.8 864.7,2199.7 867.1,2204.7 868.6,2197.7 870.5,2199.1 872.9,2198.3 875.3,2190.6 877.2,2197.3 879.2,2200.9 881.0,2196.9 882.6,2206.7 884.3,2201.5 886.5,2202.3 888.1,2191.9 890.1,2193.0 892.4,2183.3 894.7,2182.6 897.2,2179.8 898.9,2189.4 900.9,2184.4 903.1,2187.5 904.7,2197.3 906.2,2196.7 908.7,2196.9 911.2,2199.8 913.0,2194.8 915.4,2186.9 917.6,2183.8 919.3,2183.8 921.7,2191.9 923.2,2192.6 925.6,2187.5 927.8,2188.5 929.3,2175.9 931.3,2172.4 932.8,2173.7 934.8,2175.0 936.5,2173.8 939.1,2192.9 940.7,2198.3 943.1,2216.9 945.0,2220.8 947.1,2211.8 948.6,2213.5 950.9,2216.6 952.9,2209.9 955.1,2214.9 957.5,2213.4 959.8,2210.4 962.2,2206.2 963.9,2204.5 966.2,2210.2 968.1,2205.8 970.0,2211.9 972.6,2203.9 975.2,2207.4 976.9,2215.7 978.7,2211.7 980.6,2214.5 983.0,2217.7 984.7,2225.2 986.8,2217.5 989.4,2219.7 991.6,2213.4 993.6,2210.9 996.1,2214.4 997.9,2207.6 999.7,2216.0 1001.4,2217.4 1003.7,2214.3 1005.5,2218.0 1007.7,2224.8 1010.3,2223.1 1012.5,2229.0 1014.3,2221.3 1015.9,2222.3 1017.5,2214.4 1019.7,2211.0 1021.4,2208.5 1023.4,2209.8 1025.7,2200.9 1027.6,2195.4 1030.0,2204.0 1032.4,2210.5 1033.9,2208.7 1035.5,2210.9 1037.8,2220.7 1039.4,2218.0 1041.6,2222.8 1043.2,2217.0 1044.8,2212.6 1047.1,2216.1 1048.9,2215.0 1050.5,2209.0 1052.3,2206.8 1054.1,2205.6 1056.0,2207.9 1058.0,2200.2 1060.2,2211.3 1061.8,2207.5 1063.8,2216.7 1065.4,2213.3 1067.2,2219.4 1068.7,2197.2 1071.3,2174.5 1073.0,2149.0 1075.5,2150.8 1077.1,2165.6 1078.8,2175.9 1080.6,2192.1 1083.1,2219.2 1084.7,2224.8 1086.4,2219.0 1088.0,2226.4 1089.7,2220.9 1091.8,2223.5 1094.1,2219.4 1096.2,2218.8 1097.8,2204.2 1100.1,2193.1 1102.6,2186.8 1104.8,2170.9 1106.5,2167.9 1108.2,2156.8 1110.3,2154.7 1112.6,2181.4 1114.3,2199.4 1116.9,2218.2 1119.0,2220.3 1120.8,2218.0 1122.5,2226.3 1124.5,2219.9 1126.0,2224.6 1128.4,2221.5 1130.2,2228.9 1132.5,2229.2 1134.1,2238.1 1135.8,2234.1 1138.2,2235.8 1139.9,2229.7 1141.9,2234.6 1144.3,2224.2 1146.8,2228.4 1149.4,2225.7" fill="none" stroke="#000" stroke-width="4.4" stroke-linejoin="round"/>
<path d="M165.5,39.8H1182.9M167.9,37.4V2270.4M1180.5,37.4V2270.4M165.5,2268H1182.9" stroke="#000" stroke-width="4.8" fill="none"/>
<path d="M167.9,99.2V349.8" stroke="#ff6633" stroke-width="5.2" fill="none"/>
<path d="M149.0,101.9H167.9" stroke="#ff6633" stroke-width="5.0"/>
<g transform="translate(148.40,113.40) scale(0.955,1)"><text x="-65.20" y="0" font-size="33.5" fill="#ff6633" style="font-kerning:none">0.05</text></g>
<path d="M149.0,151.02H167.9" stroke="#ff6633" stroke-width="5.0"/>
<g transform="translate(148.40,162.52) scale(0.955,1)"><text x="-65.20" y="0" font-size="33.5" fill="#ff6633" style="font-kerning:none">0.06</text></g>
<path d="M149.0,200.14H167.9" stroke="#ff6633" stroke-width="5.0"/>
<g transform="translate(148.40,211.64) scale(0.955,1)"><text x="-65.20" y="0" font-size="33.5" fill="#ff6633" style="font-kerning:none">0.07</text></g>
<path d="M149.0,249.26H167.9" stroke="#ff6633" stroke-width="5.0"/>
<g transform="translate(148.40,260.76) scale(0.955,1)"><text x="-65.20" y="0" font-size="33.5" fill="#ff6633" style="font-kerning:none">0.08</text></g>
<path d="M149.0,298.38H167.9" stroke="#ff6633" stroke-width="5.0"/>
<g transform="translate(148.40,309.88) scale(0.955,1)"><text x="-65.20" y="0" font-size="33.5" fill="#ff6633" style="font-kerning:none">0.09</text></g>
<path d="M149.0,347.5H167.9" stroke="#ff6633" stroke-width="5.0"/>
<g transform="translate(148.40,359.00) scale(0.955,1)"><text x="-46.57" y="0" font-size="33.5" fill="#ff6633" style="font-kerning:none">0. </text><path d="M-6.15,0.00L-9.09,0.00L-9.09,-17.96Q-10.16,-16.99 -11.88,-16.02Q-13.61,-15.05 -14.98,-14.56L-14.98,-17.29Q-12.51,-18.40 -10.67,-19.98Q-8.82,-21.56 -8.05,-23.05L-6.15,-23.05Z" fill="#ff6633"/></g>
<path d="M149.0,613.0H167.9" stroke="#000" stroke-width="5.0"/>
<g transform="translate(143.00,624.50) scale(0.955,1)"><text x="-18.63" y="0" font-size="33.5" fill="#000" style="font-kerning:none">6</text></g>
<path d="M149.0,680.9H167.9" stroke="#000" stroke-width="5.0"/>
<g transform="translate(143.00,692.40) scale(0.955,1)"><text x="-18.63" y="0" font-size="33.5" fill="#000" style="font-kerning:none">4</text></g>
<path d="M149.0,749.0H167.9" stroke="#000" stroke-width="5.0"/>
<g transform="translate(143.00,760.50) scale(0.955,1)"><text x="-18.63" y="0" font-size="33.5" fill="#000" style="font-kerning:none">2</text></g>
<path d="M149.0,816.9H167.9" stroke="#000" stroke-width="5.0"/>
<g transform="translate(143.00,828.40) scale(0.955,1)"><text x="-18.63" y="0" font-size="33.5" fill="#000" style="font-kerning:none">0</text></g>
<path d="M149.0,884.8H167.9" stroke="#000" stroke-width="5.0"/>
<g transform="translate(155.40,896.30) scale(0.955,1)"><text x="-29.79" y="0" font-size="33.5" fill="#000" style="font-kerning:none">-2</text></g>
<path d="M149.0,1213.3H167.9" stroke="#000" stroke-width="5.0"/>
<g transform="translate(145.50,1224.80) scale(0.955,1)"><text x="-18.63" y="0" font-size="33.5" fill="#000" style="font-kerning:none">2</text></g>
<path d="M149.0,1299.0H167.9" stroke="#000" stroke-width="5.0"/>
<g transform="translate(145.50,1310.50) scale(0.955,1)"><text x="-18.63" y="0" font-size="33.5" fill="#000" style="font-kerning:none"> </text><path d="M-6.15,0.00L-9.09,0.00L-9.09,-17.96Q-10.16,-16.99 -11.88,-16.02Q-13.61,-15.05 -14.98,-14.56L-14.98,-17.29Q-12.51,-18.40 -10.67,-19.98Q-8.82,-21.56 -8.05,-23.05L-6.15,-23.05Z" fill="#000"/></g>
<path d="M149.0,1385.1H167.9" stroke="#000" stroke-width="5.0"/>
<g transform="translate(145.50,1396.60) scale(0.955,1)"><text x="-18.63" y="0" font-size="33.5" fill="#000" style="font-kerning:none">0</text></g>
<path d="M149.0,1650.0H167.9" stroke="#000" stroke-width="5.0"/>
<g transform="translate(140.00,1661.50) scale(0.955,1)"><text x="-46.57" y="0" font-size="33.5" fill="#000" style="font-kerning:none"> .5</text><path d="M-34.09,0.00L-37.03,0.00L-37.03,-17.96Q-38.10,-16.99 -39.82,-16.02Q-41.55,-15.05 -42.92,-14.56L-42.92,-17.29Q-40.45,-18.40 -38.60,-19.98Q-36.76,-21.56 -35.99,-23.05L-34.09,-23.05Z" fill="#000"/></g>
<path d="M149.0,1747.4H167.9" stroke="#000" stroke-width="5.0"/>
<g transform="translate(140.00,1758.90) scale(0.955,1)"><text x="-18.63" y="0" font-size="33.5" fill="#000" style="font-kerning:none"> </text><path d="M-6.15,0.00L-9.09,0.00L-9.09,-17.96Q-10.16,-16.99 -11.88,-16.02Q-13.61,-15.05 -14.98,-14.56L-14.98,-17.29Q-12.51,-18.40 -10.67,-19.98Q-8.82,-21.56 -8.05,-23.05L-6.15,-23.05Z" fill="#000"/></g>
<path d="M149.0,1844.8H167.9" stroke="#000" stroke-width="5.0"/>
<g transform="translate(140.00,1856.30) scale(0.955,1)"><text x="-46.57" y="0" font-size="33.5" fill="#000" style="font-kerning:none">0.5</text></g>
<path d="M149.0,2051.2H167.9" stroke="#000" stroke-width="5.0"/>
<g transform="translate(142.30,2062.70) scale(0.955,1)"><text x="-48.42" y="0" font-size="33.5" fill="#000" style="font-kerning:none">-34</text></g>
<path d="M149.0,2102.6H167.9" stroke="#000" stroke-width="5.0"/>
<g transform="translate(142.30,2114.10) scale(0.955,1)"><text x="-48.42" y="0" font-size="33.5" fill="#000" style="font-kerning:none">-37</text></g>
<path d="M149.0,2153.8H167.9" stroke="#000" stroke-width="5.0"/>
<g transform="translate(142.30,2165.30) scale(0.955,1)"><text x="-48.42" y="0" font-size="33.5" fill="#000" style="font-kerning:none">-40</text></g>
<path d="M149.0,2204.9H167.9" stroke="#000" stroke-width="5.0"/>
<g transform="translate(142.30,2216.40) scale(0.955,1)"><text x="-48.42" y="0" font-size="33.5" fill="#000" style="font-kerning:none">-43</text></g>
<path d="M149.0,2256.0H167.9" stroke="#000" stroke-width="5.0"/>
<g transform="translate(142.30,2267.50) scale(0.955,1)"><text x="-48.42" y="0" font-size="33.5" fill="#000" style="font-kerning:none">-46</text></g>
<path d="M1180.5,53.3H1199.3" stroke="#000" stroke-width="5.0"/>
<g transform="translate(1205.50,64.80) scale(0.955,1)"><text x="0.00" y="0" font-size="33.5" fill="#000" style="font-kerning:none">- 8</text><path d="M23.64,0.00L20.69,0.00L20.69,-17.96Q19.63,-16.99 17.90,-16.02Q16.18,-15.05 14.80,-14.56L14.80,-17.29Q17.27,-18.40 19.12,-19.98Q20.97,-21.56 21.74,-23.05L23.64,-23.05Z" fill="#000"/></g>
<path d="M1180.5,131.5H1199.3" stroke="#000" stroke-width="5.0"/>
<g transform="translate(1205.50,143.00) scale(0.955,1)"><text x="0.00" y="0" font-size="33.5" fill="#000" style="font-kerning:none">- 6</text><path d="M23.64,0.00L20.69,0.00L20.69,-17.96Q19.63,-16.99 17.90,-16.02Q16.18,-15.05 14.80,-14.56L14.80,-17.29Q17.27,-18.40 19.12,-19.98Q20.97,-21.56 21.74,-23.05L23.64,-23.05Z" fill="#000"/></g>
<path d="M1180.5,209.3H1199.3" stroke="#000" stroke-width="5.0"/>
<g transform="translate(1205.50,220.80) scale(0.955,1)"><text x="0.00" y="0" font-size="33.5" fill="#000" style="font-kerning:none">- 4</text><path d="M23.64,0.00L20.69,0.00L20.69,-17.96Q19.63,-16.99 17.90,-16.02Q16.18,-15.05 14.80,-14.56L14.80,-17.29Q17.27,-18.40 19.12,-19.98Q20.97,-21.56 21.74,-23.05L23.64,-23.05Z" fill="#000"/></g>
<path d="M1180.5,287.6H1199.3" stroke="#000" stroke-width="5.0"/>
<g transform="translate(1205.50,299.10) scale(0.955,1)"><text x="0.00" y="0" font-size="33.5" fill="#000" style="font-kerning:none">- 2</text><path d="M23.64,0.00L20.69,0.00L20.69,-17.96Q19.63,-16.99 17.90,-16.02Q16.18,-15.05 14.80,-14.56L14.80,-17.29Q17.27,-18.40 19.12,-19.98Q20.97,-21.56 21.74,-23.05L23.64,-23.05Z" fill="#000"/></g>
<path d="M1180.5,432.1H1199.3" stroke="#000" stroke-width="5.0"/>
<g transform="translate(1201.00,443.60) scale(0.955,1)"><text x="0.00" y="0" font-size="33.5" fill="#000" style="font-kerning:none">9</text></g>
<path d="M1180.5,487.3H1199.3" stroke="#000" stroke-width="5.0"/>
<g transform="translate(1201.00,498.80) scale(0.955,1)"><text x="0.00" y="0" font-size="33.5" fill="#000" style="font-kerning:none">6</text></g>
<path d="M1180.5,543.6H1199.3" stroke="#000" stroke-width="5.0"/>
<g transform="translate(1201.00,555.10) scale(0.955,1)"><text x="0.00" y="0" font-size="33.5" fill="#000" style="font-kerning:none">3</text></g>
<path d="M1180.5,598.8H1199.3" stroke="#000" stroke-width="5.0"/>
<g transform="translate(1201.00,610.30) scale(0.955,1)"><text x="0.00" y="0" font-size="33.5" fill="#000" style="font-kerning:none">0</text></g>
<path d="M1180.5,834.4H1199.3" stroke="#000" stroke-width="5.0"/>
<g transform="translate(1202.80,845.90) scale(0.955,1)"><text x="0.00" y="0" font-size="33.5" fill="#000" style="font-kerning:none">6</text></g>
<path d="M1180.5,891.5H1199.3" stroke="#000" stroke-width="5.0"/>
<g transform="translate(1202.80,903.00) scale(0.955,1)"><text x="0.00" y="0" font-size="33.5" fill="#000" style="font-kerning:none">4</text></g>
<path d="M1180.5,949.2H1199.3" stroke="#000" stroke-width="5.0"/>
<g transform="translate(1202.80,960.70) scale(0.955,1)"><text x="0.00" y="0" font-size="33.5" fill="#000" style="font-kerning:none">2</text></g>
<path d="M1180.5,1006.3H1199.3" stroke="#000" stroke-width="5.0"/>
<g transform="translate(1202.80,1017.80) scale(0.955,1)"><text x="0.00" y="0" font-size="33.5" fill="#000" style="font-kerning:none">0</text></g>
<path d="M1180.5,1064.9H1199.3" stroke="#000" stroke-width="5.0"/>
<g transform="translate(1202.80,1076.40) scale(0.955,1)"><text x="0.00" y="0" font-size="33.5" fill="#000" style="font-kerning:none">-2</text></g>
<path d="M1180.5,1112.6H1199.3" stroke="#000" stroke-width="5.0"/>
<g transform="translate(1202.80,1124.10) scale(0.955,1)"><text x="0.00" y="0" font-size="33.5" fill="#000" style="font-kerning:none">-5</text></g>
<path d="M1180.5,1400.2H1199.3" stroke="#000" stroke-width="5.0"/>
<g transform="translate(1202.70,1411.70) scale(0.955,1)"><text x="0.00" y="0" font-size="33.5" fill="#000" style="font-kerning:none">4</text></g>
<path d="M1180.5,1476.0H1199.3" stroke="#000" stroke-width="5.0"/>
<g transform="translate(1202.70,1487.50) scale(0.955,1)"><text x="0.00" y="0" font-size="33.5" fill="#000" style="font-kerning:none">3</text></g>
<path d="M1180.5,1551.8H1199.3" stroke="#000" stroke-width="5.0"/>
<g transform="translate(1202.70,1563.30) scale(0.955,1)"><text x="0.00" y="0" font-size="33.5" fill="#000" style="font-kerning:none">2</text></g>
<path d="M1180.5,1627.6H1199.3" stroke="#000" stroke-width="5.0"/>
<g transform="translate(1202.70,1639.10) scale(0.955,1)"><text x="0.00" y="0" font-size="33.5" fill="#000" style="font-kerning:none"> </text><path d="M12.48,0.00L9.54,0.00L9.54,-17.96Q8.47,-16.99 6.75,-16.02Q5.02,-15.05 3.65,-14.56L3.65,-17.29Q6.12,-18.40 7.97,-19.98Q9.81,-21.56 10.58,-23.05L12.48,-23.05Z" fill="#000"/></g>
<path d="M1180.5,1702.8H1199.3" stroke="#000" stroke-width="5.0"/>
<g transform="translate(1202.70,1714.30) scale(0.955,1)"><text x="0.00" y="0" font-size="33.5" fill="#000" style="font-kerning:none">0</text></g>
<path d="M1180.5,1818.0H1199.3" stroke="#000" stroke-width="5.0"/>
<g transform="translate(1204.70,1829.50) scale(0.955,1)"><text x="0.00" y="0" font-size="33.5" fill="#000" style="font-kerning:none">4</text></g>
<path d="M1180.5,1884.0H1199.3" stroke="#000" stroke-width="5.0"/>
<g transform="translate(1204.70,1895.50) scale(0.955,1)"><text x="0.00" y="0" font-size="33.5" fill="#000" style="font-kerning:none">3</text></g>
<path d="M1180.5,1949.5H1199.3" stroke="#000" stroke-width="5.0"/>
<g transform="translate(1204.70,1961.00) scale(0.955,1)"><text x="0.00" y="0" font-size="33.5" fill="#000" style="font-kerning:none">2</text></g>
<path d="M1180.5,2015.1H1199.3" stroke="#000" stroke-width="5.0"/>
<g transform="translate(1204.70,2026.60) scale(0.955,1)"><text x="0.00" y="0" font-size="33.5" fill="#000" style="font-kerning:none"> </text><path d="M12.48,0.00L9.54,0.00L9.54,-17.96Q8.47,-16.99 6.75,-16.02Q5.02,-15.05 3.65,-14.56L3.65,-17.29Q6.12,-18.40 7.97,-19.98Q9.81,-21.56 10.58,-23.05L12.48,-23.05Z" fill="#000"/></g>
<path d="M1180.5,2080.7H1199.3" stroke="#000" stroke-width="5.0"/>
<g transform="translate(1204.70,2092.20) scale(0.955,1)"><text x="0.00" y="0" font-size="33.5" fill="#000" style="font-kerning:none">0</text></g>
<rect x="-7.5" y="-3.6" width="15" height="7.2" fill="#000" transform="translate(1180.6,1085.6) rotate(-32)"/>
<path d="M183.9,2268V2277" stroke="#000" stroke-width="5.0"/>
<g transform="translate(184.50,2306.80) scale(0.955,1)"><text x="-9.32" y="0" font-size="33.5" fill="#000" style="font-kerning:none">0</text></g>
<path d="M216.0,2268V2273.6" stroke="#000" stroke-width="5.0"/>
<path d="M248.1,2268V2277" stroke="#000" stroke-width="5.0"/>
<g transform="translate(248.74,2306.80) scale(0.955,1)"><text x="-9.32" y="0" font-size="33.5" fill="#000" style="font-kerning:none">2</text></g>
<path d="M280.3,2268V2273.6" stroke="#000" stroke-width="5.0"/>
<path d="M312.4,2268V2277" stroke="#000" stroke-width="5.0"/>
<g transform="translate(312.98,2306.80) scale(0.955,1)"><text x="-9.32" y="0" font-size="33.5" fill="#000" style="font-kerning:none">4</text></g>
<path d="M344.5,2268V2273.6" stroke="#000" stroke-width="5.0"/>
<path d="M376.6,2268V2277" stroke="#000" stroke-width="5.0"/>
<g transform="translate(377.22,2306.80) scale(0.955,1)"><text x="-9.32" y="0" font-size="33.5" fill="#000" style="font-kerning:none">6</text></g>
<path d="M408.7,2268V2273.6" stroke="#000" stroke-width="5.0"/>
<path d="M440.9,2268V2277" stroke="#000" stroke-width="5.0"/>
<g transform="translate(441.46,2306.80) scale(0.955,1)"><text x="-9.32" y="0" font-size="33.5" fill="#000" style="font-kerning:none">8</text></g>
<path d="M473.0,2268V2273.6" stroke="#000" stroke-width="5.0"/>
<path d="M505.1,2268V2277" stroke="#000" stroke-width="5.0"/>
<g transform="translate(505.70,2306.80) scale(0.955,1)"><text x="-18.63" y="0" font-size="33.5" fill="#000" style="font-kerning:none"> 0</text><path d="M-6.15,0.00L-9.09,0.00L-9.09,-17.96Q-10.16,-16.99 -11.88,-16.02Q-13.61,-15.05 -14.98,-14.56L-14.98,-17.29Q-12.51,-18.40 -10.67,-19.98Q-8.82,-21.56 -8.05,-23.05L-6.15,-23.05Z" fill="#000"/></g>
<path d="M537.2,2268V2273.6" stroke="#000" stroke-width="5.0"/>
<path d="M569.3,2268V2277" stroke="#000" stroke-width="5.0"/>
<g transform="translate(569.94,2306.80) scale(0.955,1)"><text x="-18.63" y="0" font-size="33.5" fill="#000" style="font-kerning:none"> 2</text><path d="M-6.15,0.00L-9.09,0.00L-9.09,-17.96Q-10.16,-16.99 -11.88,-16.02Q-13.61,-15.05 -14.98,-14.56L-14.98,-17.29Q-12.51,-18.40 -10.67,-19.98Q-8.82,-21.56 -8.05,-23.05L-6.15,-23.05Z" fill="#000"/></g>
<path d="M601.5,2268V2273.6" stroke="#000" stroke-width="5.0"/>
<path d="M633.6,2268V2277" stroke="#000" stroke-width="5.0"/>
<g transform="translate(634.18,2306.80) scale(0.955,1)"><text x="-18.63" y="0" font-size="33.5" fill="#000" style="font-kerning:none"> 4</text><path d="M-6.15,0.00L-9.09,0.00L-9.09,-17.96Q-10.16,-16.99 -11.88,-16.02Q-13.61,-15.05 -14.98,-14.56L-14.98,-17.29Q-12.51,-18.40 -10.67,-19.98Q-8.82,-21.56 -8.05,-23.05L-6.15,-23.05Z" fill="#000"/></g>
<path d="M665.7,2268V2273.6" stroke="#000" stroke-width="5.0"/>
<path d="M697.8,2268V2277" stroke="#000" stroke-width="5.0"/>
<g transform="translate(698.42,2306.80) scale(0.955,1)"><text x="-18.63" y="0" font-size="33.5" fill="#000" style="font-kerning:none"> 6</text><path d="M-6.15,0.00L-9.09,0.00L-9.09,-17.96Q-10.16,-16.99 -11.88,-16.02Q-13.61,-15.05 -14.98,-14.56L-14.98,-17.29Q-12.51,-18.40 -10.67,-19.98Q-8.82,-21.56 -8.05,-23.05L-6.15,-23.05Z" fill="#000"/></g>
<path d="M729.9,2268V2273.6" stroke="#000" stroke-width="5.0"/>
<path d="M762.1,2268V2277" stroke="#000" stroke-width="5.0"/>
<g transform="translate(762.66,2306.80) scale(0.955,1)"><text x="-18.63" y="0" font-size="33.5" fill="#000" style="font-kerning:none"> 8</text><path d="M-6.15,0.00L-9.09,0.00L-9.09,-17.96Q-10.16,-16.99 -11.88,-16.02Q-13.61,-15.05 -14.98,-14.56L-14.98,-17.29Q-12.51,-18.40 -10.67,-19.98Q-8.82,-21.56 -8.05,-23.05L-6.15,-23.05Z" fill="#000"/></g>
<path d="M794.2,2268V2273.6" stroke="#000" stroke-width="5.0"/>
<path d="M826.3,2268V2277" stroke="#000" stroke-width="5.0"/>
<g transform="translate(826.90,2306.80) scale(0.955,1)"><text x="-18.63" y="0" font-size="33.5" fill="#000" style="font-kerning:none">20</text></g>
<path d="M858.4,2268V2273.6" stroke="#000" stroke-width="5.0"/>
<path d="M890.5,2268V2277" stroke="#000" stroke-width="5.0"/>
<g transform="translate(891.14,2306.80) scale(0.955,1)"><text x="-18.63" y="0" font-size="33.5" fill="#000" style="font-kerning:none">22</text></g>
<path d="M922.7,2268V2273.6" stroke="#000" stroke-width="5.0"/>
<path d="M954.8,2268V2277" stroke="#000" stroke-width="5.0"/>
<g transform="translate(955.38,2306.80) scale(0.955,1)"><text x="-18.63" y="0" font-size="33.5" fill="#000" style="font-kerning:none">24</text></g>
<path d="M986.9,2268V2273.6" stroke="#000" stroke-width="5.0"/>
<path d="M1019.0,2268V2277" stroke="#000" stroke-width="5.0"/>
<g transform="translate(1019.62,2306.80) scale(0.955,1)"><text x="-18.63" y="0" font-size="33.5" fill="#000" style="font-kerning:none">26</text></g>
<path d="M1051.1,2268V2273.6" stroke="#000" stroke-width="5.0"/>
<path d="M1083.3,2268V2277" stroke="#000" stroke-width="5.0"/>
<g transform="translate(1083.86,2306.80) scale(0.955,1)"><text x="-18.63" y="0" font-size="33.5" fill="#000" style="font-kerning:none">28</text></g>
<path d="M1115.4,2268V2273.6" stroke="#000" stroke-width="5.0"/>
<path d="M1147.5,2268V2277" stroke="#000" stroke-width="5.0"/>
<g transform="translate(1148.10,2306.80) scale(0.955,1)"><text x="-18.63" y="0" font-size="33.5" fill="#000" style="font-kerning:none">30</text></g>
<text x="666.7" y="2340.5" font-size="32" text-anchor="middle">Age (ka BP)</text>
<text x="201.5" y="104" font-size="46">i<tspan dx="2.5">)</tspan></text>
<text x="193.5" y="456.5" font-size="46">h<tspan dx="2.5">)</tspan></text>
<text x="192" y="666" font-size="46">g<tspan dx="2.5">)</tspan></text>
<text x="199.5" y="922" font-size="46">f<tspan dx="2.5">)</tspan></text>
<text x="194.5" y="1206.7" font-size="46">e<tspan dx="2.5">)</tspan></text>
<text x="194" y="1506.5" font-size="46">d<tspan dx="2.5">)</tspan></text>
<text x="195.5" y="1722.3" font-size="46">c<tspan dx="2.5">)</tspan></text>
<text x="195" y="1886.3" font-size="46">b<tspan dx="2.5">)</tspan></text>
<text x="193.5" y="2049" font-size="46">a<tspan dx="2.5">)</tspan></text>
<text x="246.5" y="437" font-size="32" fill="#d7195c">~69°N</text>
<text x="247.5" y="474.3" font-size="32">Deep water</text>
<text x="241" y="650" font-size="32" fill="#d7195c">~62°N</text>
<text x="243" y="688" font-size="32">Intermediate water</text>
<text x="238.5" y="895" font-size="32" fill="#d7195c">~50 – 56°N</text>
<text x="238.5" y="932.5" font-size="32">Deep water</text>
<text x="245" y="1181" font-size="32" fill="#d7195c">~33 – 39°N</text>
<text x="248.5" y="1219.5" font-size="32">Intermediate</text>
<text x="248.5" y="1257" font-size="32">to deep water</text>
<text x="248" y="1488.5" font-size="32" fill="#d7195c">~38°N</text>
<text x="248.5" y="1527" font-size="32">Deep water</text>
<text x="245.5" y="1703.7" font-size="32" fill="#d7195c">~9°N</text>
<text x="245" y="1741" font-size="32">Intermediate water</text>
<text x="245.5" y="1866.7" font-size="32" fill="#d7195c">~44°S</text>
<text x="245.3" y="1904.6" font-size="32">Deep water</text>
<g transform="translate(962.50,870.00) scale(0.99,1)"><text x="0.00" y="0" font-size="32" fill="#0000ee" style="font-kerning:none">U 3 4, 2.8 km</text><path d="M35.03,0.00L32.22,0.00L32.22,-17.15Q31.20,-16.23 29.55,-15.30Q27.91,-14.37 26.59,-13.91L26.59,-16.51Q28.95,-17.57 30.72,-19.08Q32.48,-20.59 33.22,-22.02L35.03,-22.02ZM70.62,0.00L67.81,0.00L67.81,-17.15Q66.80,-16.23 65.15,-15.30Q63.50,-14.37 62.19,-13.91L62.19,-16.51Q64.55,-17.57 66.31,-19.08Q68.08,-20.59 68.81,-22.02L70.62,-22.02Z" fill="#0000ee"/></g>
<g transform="translate(962.50,907.70) scale(0.99,1)"><text x="0.00" y="0" font-size="32" fill="#0a8c3c" style="font-kerning:none">U 308, 3.9 km</text><path d="M35.03,0.00L32.22,0.00L32.22,-17.15Q31.20,-16.23 29.55,-15.30Q27.91,-14.37 26.59,-13.91L26.59,-16.51Q28.95,-17.57 30.72,-19.08Q32.48,-20.59 33.22,-22.02L35.03,-22.02Z" fill="#0a8c3c"/></g>
<g transform="translate(962.50,945.40) scale(0.99,1)"><text x="0.00" y="0" font-size="32" fill="#ff00ff" style="font-kerning:none">U 302, 3.6 km</text><path d="M35.03,0.00L32.22,0.00L32.22,-17.15Q31.20,-16.23 29.55,-15.30Q27.91,-14.37 26.59,-13.91L26.59,-16.51Q28.95,-17.57 30.72,-19.08Q32.48,-20.59 33.22,-22.02L35.03,-22.02Z" fill="#ff00ff"/></g>
<text transform="translate(20.3,330.4) rotate(-90)" font-size="27" fill="#ff6633" text-anchor="start" textLength="226.9" lengthAdjust="spacingAndGlyphs">More active AMOC</text>
<text transform="translate(79.0,298.9) rotate(-90)" font-size="32" fill="#ff6633" text-anchor="start" textLength="148.0" lengthAdjust="spacingAndGlyphs"><tspan font-size="20" dy="-8.6">231</tspan><tspan dy="8.6">Pa/</tspan><tspan font-size="20" dy="-8.6">230</tspan><tspan dy="8.6">Th</tspan></text>
<text transform="translate(64.0,879.9) rotate(-90)" font-size="32" fill="#000" text-anchor="start" textLength="273.9" lengthAdjust="spacingAndGlyphs">B-atm (×10<tspan font-size="16.5" dy="-10.6">3</tspan><tspan dy="10.6" font-size="27"> </tspan><tspan font-size="16.5" dy="-10.6">14</tspan><tspan dy="10.6" dx="-1.5">C yrs)</tspan></text>
<text transform="translate(99.4,960.2) rotate(-90)" font-size="32" fill="#000" text-anchor="start" textLength="450.0" lengthAdjust="spacingAndGlyphs">South Iceland Rise, 1.2 – 2.3 km</text>
<text transform="translate(58.5,1425.7) rotate(-90)" font-size="32" fill="#000" text-anchor="start" textLength="270.3" lengthAdjust="spacingAndGlyphs">B-atm (×10<tspan font-size="16.5" dy="-10.6">3</tspan><tspan dy="10.6" font-size="27"> </tspan><tspan font-size="16.5" dy="-10.6">14</tspan><tspan dy="10.6" dx="-1.5">C yrs)</tspan></text>
<text transform="translate(103.7,1459.8) rotate(-90)" font-size="32" fill="#000" text-anchor="start" textLength="345.8" lengthAdjust="spacingAndGlyphs">NW Atlantic, 1.1 – 4.6 km</text>
<text transform="translate(32.3,1873.3) rotate(-90)" font-size="32" fill="#000" text-anchor="start" textLength="267.3" lengthAdjust="spacingAndGlyphs">B-atm (×10<tspan font-size="16.5" dy="-10.6">3</tspan><tspan dy="10.6" font-size="27"> </tspan><tspan font-size="16.5" dy="-10.6">14</tspan><tspan dy="10.6" dx="-1.5">C yrs)</tspan></text>
<text transform="translate(76.6,1926.3) rotate(-90)" font-size="32" fill="#000" text-anchor="start" textLength="360.7" lengthAdjust="spacingAndGlyphs">Equatorial Atlantic, 1.1 km</text>
<text transform="translate(78.4,2260.3) rotate(-90)" font-size="32" fill="#000" text-anchor="start" textLength="228.5" lengthAdjust="spacingAndGlyphs">NGRIP δ<tspan font-size="18.5" dy="-9.7">18</tspan><tspan dy="9.7">O (‰)</tspan></text>
<text transform="translate(1287.9,298.3) rotate(-90)" font-size="32" fill="#000" text-anchor="start" textLength="247.2" lengthAdjust="spacingAndGlyphs">Bermuda Rise ε<tspan font-size="21" dy="8">Nd</tspan></text>
<text transform="translate(1267.6,654.9) rotate(-90)" font-size="32" fill="#000" text-anchor="start" textLength="272.7" lengthAdjust="spacingAndGlyphs">B-atm (×10<tspan font-size="16.5" dy="-10.6">3</tspan><tspan dy="10.6" font-size="27"> </tspan><tspan font-size="16.5" dy="-10.6">14</tspan><tspan dy="10.6" dx="-1.5">C yrs)</tspan></text>
<text transform="translate(1303.2,690.0) rotate(-90)" font-size="32" fill="#000" text-anchor="start" textLength="325.1" lengthAdjust="spacingAndGlyphs">Norwegian Sea, 2.7 km</text>
<text transform="translate(1267.3,1093.3) rotate(-90)" font-size="32" fill="#000" text-anchor="start" textLength="270.6" lengthAdjust="spacingAndGlyphs">B-atm (×10<tspan font-size="16.5" dy="-10.6">3</tspan><tspan dy="10.6" font-size="27"> </tspan><tspan font-size="16.5" dy="-10.6">14</tspan><tspan dy="10.6" dx="-1.5">C yrs)</tspan></text>
<text transform="translate(1302.5,1146.3) rotate(-90)" font-size="32" fill="#000" text-anchor="start" textLength="369.2" lengthAdjust="spacingAndGlyphs">North Atlantic, 2.8 – 3.9 km</text>
<text transform="translate(1267.1,1691.9) rotate(-90)" font-size="32" fill="#000" text-anchor="start" textLength="271.9" lengthAdjust="spacingAndGlyphs">B-atm (×10<tspan font-size="16.5" dy="-10.6">3</tspan><tspan dy="10.6" font-size="27"> </tspan><tspan font-size="16.5" dy="-10.6">14</tspan><tspan dy="10.6" dx="-1.5">C yrs)</tspan></text>
<text transform="translate(1302.8,1734.4) rotate(-90)" font-size="32" fill="#000" text-anchor="start" textLength="387.5" lengthAdjust="spacingAndGlyphs">Iberian Margin, 2.7 – 3.1 km</text>
<text transform="translate(1262.9,2088.4) rotate(-90)" font-size="32" fill="#000" text-anchor="start" textLength="272.0" lengthAdjust="spacingAndGlyphs">B-atm (×10<tspan font-size="16.5" dy="-10.6">3</tspan><tspan dy="10.6" font-size="27"> </tspan><tspan font-size="16.5" dy="-10.6">14</tspan><tspan dy="10.6" dx="-1.5">C yrs)</tspan></text>
<text transform="translate(1305.3,2098.5) rotate(-90)" font-size="32" fill="#000" text-anchor="start" textLength="303.4" lengthAdjust="spacingAndGlyphs">South Atlantic, 3.8 km</text>
<text transform="translate(1349.5,191.7) rotate(-90)" font-size="27" fill="#000" text-anchor="middle" textLength="82.8" lengthAdjust="spacingAndGlyphs">NADW</text>
<path d="M1334,113.3H1347M1340.5,106.8V119.8" stroke="#000" stroke-width="2.3"/>
<path d="M1343.7,263.6V273.3" stroke="#000" stroke-width="3"/>
<path d="M39.8,339.3V141.6" stroke="#ff6633" stroke-width="4.5" stroke-dasharray="1.3 8.56" stroke-linecap="round"/>
<path d="M40,117.7 L49.3,136.5 L30.4,136.5 Z" fill="#ff6633" stroke="#ff6633" stroke-width="1.5" stroke-linejoin="round"/>
<path d="M1310.5,286.5V88.5" stroke="#000" stroke-width="4.8" stroke-dasharray="1.5 8.6" stroke-linecap="round"/>
<path d="M1310.6,64.7 L1320.1,83.7 L1301.1,83.7 Z" fill="#000" stroke="#000" stroke-width="1.5" stroke-linejoin="round"/></svg>
</body></html>
